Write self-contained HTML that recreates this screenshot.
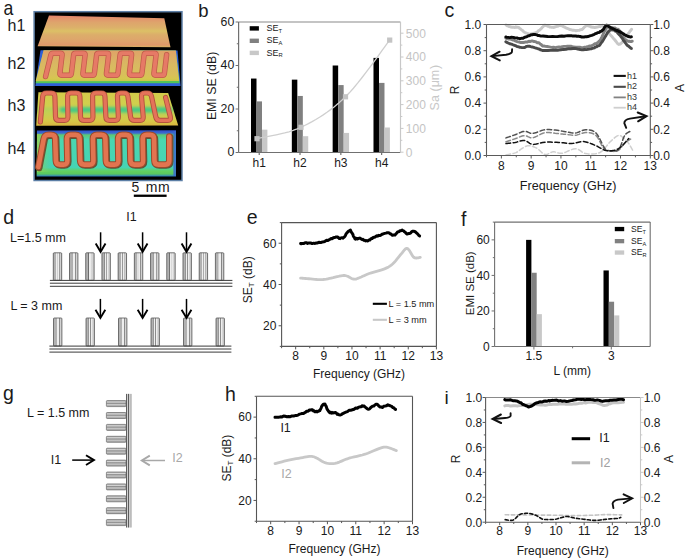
<!DOCTYPE html>
<html><head><meta charset="utf-8"><style>
html,body{margin:0;padding:0;background:#fff;}
svg{display:block;font-family:"Liberation Sans", sans-serif;}
</style></head><body>
<svg width="685" height="560" viewBox="0 0 685 560">
<rect width="685" height="560" fill="#fff"/>
<text x="3.60" y="14.70" font-size="20.5" text-anchor="start" fill="#1a1a1a" transform="translate(3.6 0) scale(0.86 1) translate(-3.6 0)">a</text>
<text x="7.60" y="31.30" font-size="16" text-anchor="start" fill="#1a1a1a" >h1</text>
<text x="7.60" y="68.80" font-size="16" text-anchor="start" fill="#1a1a1a" >h2</text>
<text x="7.60" y="111.40" font-size="16" text-anchor="start" fill="#1a1a1a" >h3</text>
<text x="7.60" y="154.30" font-size="16" text-anchor="start" fill="#1a1a1a" >h4</text>
<rect x="34.1" y="11.7" width="147.9" height="168.8" fill="#000" stroke="#5d7fa6" stroke-width="1.5"/>
<defs>
<linearGradient id="g1" x1="0" y1="0" x2="0" y2="1">
<stop offset="0" stop-color="#e4806a"/><stop offset="0.07" stop-color="#e2906c"/><stop offset="0.22" stop-color="#dea46c"/><stop offset="0.38" stop-color="#dcb06a"/><stop offset="0.49" stop-color="#dcc066"/><stop offset="0.6" stop-color="#dcae6a"/><stop offset="0.82" stop-color="#dea26c"/><stop offset="0.92" stop-color="#e0986a"/><stop offset="1" stop-color="#d8b062"/></linearGradient>
<linearGradient id="g2" x1="0" y1="0" x2="0" y2="1">
<stop offset="0" stop-color="#e0a268"/><stop offset="0.45" stop-color="#d9b862"/><stop offset="0.8" stop-color="#d8c05a"/><stop offset="0.9" stop-color="#d6c650"/><stop offset="1" stop-color="#c8c848"/></linearGradient>
<linearGradient id="g3" x1="0" y1="0" x2="0" y2="1">
<stop offset="0" stop-color="#d4ca4a"/><stop offset="0.4" stop-color="#cfd04e"/><stop offset="0.5" stop-color="#b8d058"/><stop offset="0.62" stop-color="#c4d052"/><stop offset="0.85" stop-color="#d6c848"/><stop offset="1" stop-color="#dab640"/></linearGradient>
<filter id="bl" x="-20%" y="-50%" width="140%" height="200%"><feGaussianBlur stdDeviation="1.6"/></filter>
<linearGradient id="g4" x1="0" y1="0" x2="0" y2="1">
<stop offset="0" stop-color="#3050c8"/><stop offset="0.06" stop-color="#3c68d0"/><stop offset="0.1" stop-color="#5cc874"/><stop offset="0.2" stop-color="#4ad6b0"/><stop offset="0.8" stop-color="#46d4b4"/><stop offset="0.88" stop-color="#62d060"/><stop offset="0.94" stop-color="#5ac860"/><stop offset="1" stop-color="#2a78c8"/></linearGradient>
<linearGradient id="g4l" x1="0" y1="0" x2="1" y2="0"><stop offset="0" stop-color="#a0d050" stop-opacity="0.85"/><stop offset="1" stop-color="#70d070" stop-opacity="0"/></linearGradient>
</defs>
<polygon points="49.0,15.4 164.3,18.2 170.5,47.3 37.6,46.2" fill="url(#g1)"/>
<polygon points="40.5,50.2 177.5,50.6 180.6,85.9 35.3,85.9" fill="#2f5fd8"/>
<polygon points="43.6,50.2 175.8,50.6 179.6,83.2 35.6,83.3" fill="#52c458"/>
<polygon points="43.6,50.2 175.8,50.6 179.2,81.0 35.6,81.2" fill="url(#g2)"/>
<path d="M45.56,76.60 L50.86,55.00 Q51.30,53.20 53.10,53.20 L60.50,53.20 Q62.30,53.20 62.09,55.00 L59.91,73.40 Q59.70,75.20 61.50,75.20 L69.40,75.20 Q71.20,75.20 71.41,73.40 L73.59,55.00 Q73.80,53.20 75.60,53.20 L83.50,53.20 Q85.30,53.20 85.09,55.00 L82.91,73.40 Q82.70,75.20 84.50,75.20 L92.40,75.20 Q94.20,75.20 94.41,73.40 L96.59,55.00 Q96.80,53.20 98.60,53.20 L107.00,53.20 Q108.80,53.20 108.59,55.00 L106.41,73.40 Q106.20,75.20 108.00,75.20 L115.90,75.20 Q117.70,75.20 117.91,73.40 L120.09,55.00 Q120.30,53.20 122.10,53.20 L130.00,53.20 Q131.80,53.20 131.59,55.00 L129.41,73.40 Q129.20,75.20 131.00,75.20 L139.90,75.20 Q141.70,75.20 141.91,73.40 L144.09,55.00 Q144.30,53.20 146.10,53.20 L154.50,53.20 Q156.30,53.20 156.09,55.00 L153.91,73.40 Q153.70,75.20 155.50,75.20 L162.40,75.20 Q164.20,75.20 164.41,73.40 L166.63,54.60" fill="none" stroke="#c05a4a" stroke-width="5.4" stroke-linejoin="round" stroke-linecap="round"/>
<path d="M45.56,76.60 L50.86,55.00 Q51.30,53.20 53.10,53.20 L60.50,53.20 Q62.30,53.20 62.09,55.00 L59.91,73.40 Q59.70,75.20 61.50,75.20 L69.40,75.20 Q71.20,75.20 71.41,73.40 L73.59,55.00 Q73.80,53.20 75.60,53.20 L83.50,53.20 Q85.30,53.20 85.09,55.00 L82.91,73.40 Q82.70,75.20 84.50,75.20 L92.40,75.20 Q94.20,75.20 94.41,73.40 L96.59,55.00 Q96.80,53.20 98.60,53.20 L107.00,53.20 Q108.80,53.20 108.59,55.00 L106.41,73.40 Q106.20,75.20 108.00,75.20 L115.90,75.20 Q117.70,75.20 117.91,73.40 L120.09,55.00 Q120.30,53.20 122.10,53.20 L130.00,53.20 Q131.80,53.20 131.59,55.00 L129.41,73.40 Q129.20,75.20 131.00,75.20 L139.90,75.20 Q141.70,75.20 141.91,73.40 L144.09,55.00 Q144.30,53.20 146.10,53.20 L154.50,53.20 Q156.30,53.20 156.09,55.00 L153.91,73.40 Q153.70,75.20 155.50,75.20 L162.40,75.20 Q164.20,75.20 164.41,73.40 L166.63,54.60" fill="none" stroke="#e67a66" stroke-width="3.9" stroke-linejoin="round" stroke-linecap="round"/>
<polygon points="38.4,92.2 168.2,93.1 178.2,125.4 36.2,125.8" fill="url(#g3)"/>
<rect x="60" y="107.2" width="112" height="5.4" rx="2.5" fill="#3cc888" filter="url(#bl)" opacity="0.95"/>
<path d="M40.35,122.00 L42.68,96.50 Q43.00,93.00 46.50,93.00 L51.30,93.00 Q54.80,93.00 54.90,96.50 L55.50,116.90 Q55.60,120.40 59.10,120.40 L64.50,120.40 Q68.00,120.40 67.94,116.90 L67.56,96.50 Q67.50,93.00 71.00,93.00 L76.30,93.00 Q79.80,93.00 79.90,96.50 L80.50,116.90 Q80.60,120.40 84.10,120.40 L89.50,120.40 Q93.00,120.40 92.94,116.90 L92.56,96.50 Q92.50,93.00 96.00,93.00 L101.30,93.00 Q104.80,93.00 104.95,96.50 L105.85,116.90 Q106.00,120.40 109.50,120.40 L115.00,120.40 Q118.50,120.40 118.35,116.90 L117.45,96.50 Q117.30,93.00 120.80,93.00 L124.00,93.00 Q127.50,93.00 127.95,96.50 L130.55,116.90 Q131.00,120.40 134.50,120.40 L140.00,120.40 Q143.50,120.40 143.21,116.90 L141.49,96.50 Q141.20,93.00 144.70,93.00 L147.30,93.00 Q150.80,93.00 151.53,96.50 L155.77,116.90 Q156.50,120.40 160.00,120.40 L167.70,120.40 Q171.20,120.40 170.34,116.90 L165.60,97.50" fill="none" stroke="#b4523e" stroke-width="5.2" stroke-linejoin="round" stroke-linecap="round"/>
<path d="M40.35,122.00 L42.68,96.50 Q43.00,93.00 46.50,93.00 L51.30,93.00 Q54.80,93.00 54.90,96.50 L55.50,116.90 Q55.60,120.40 59.10,120.40 L64.50,120.40 Q68.00,120.40 67.94,116.90 L67.56,96.50 Q67.50,93.00 71.00,93.00 L76.30,93.00 Q79.80,93.00 79.90,96.50 L80.50,116.90 Q80.60,120.40 84.10,120.40 L89.50,120.40 Q93.00,120.40 92.94,116.90 L92.56,96.50 Q92.50,93.00 96.00,93.00 L101.30,93.00 Q104.80,93.00 104.95,96.50 L105.85,116.90 Q106.00,120.40 109.50,120.40 L115.00,120.40 Q118.50,120.40 118.35,116.90 L117.45,96.50 Q117.30,93.00 120.80,93.00 L124.00,93.00 Q127.50,93.00 127.95,96.50 L130.55,116.90 Q131.00,120.40 134.50,120.40 L140.00,120.40 Q143.50,120.40 143.21,116.90 L141.49,96.50 Q141.20,93.00 144.70,93.00 L147.30,93.00 Q150.80,93.00 151.53,96.50 L155.77,116.90 Q156.50,120.40 160.00,120.40 L167.70,120.40 Q171.20,120.40 170.34,116.90 L165.60,97.50" fill="none" stroke="#e4735a" stroke-width="3.4" stroke-linejoin="round" stroke-linecap="round"/>
<polygon points="37.0,130.5 176.0,130.3 176.0,176.6 36.6,176.6" fill="url(#g4)"/>
<rect x="173.4" y="131" width="2.6" height="45" fill="#3a6ad0" opacity="0.85"/>
<rect x="37" y="134" width="14" height="38" fill="url(#g4l)"/>
<path d="M38.34,167.00 L43.73,138.80 Q44.50,134.80 48.50,134.80 L51.10,134.80 Q55.10,134.80 55.22,138.80 L55.88,160.60 Q56.00,164.60 60.00,164.60 L63.50,164.60 Q67.50,164.60 67.41,160.60 L66.89,138.80 Q66.80,134.80 70.80,134.80 L75.50,134.80 Q79.50,134.80 79.61,138.80 L80.19,160.60 Q80.30,164.60 84.30,164.60 L89.50,164.60 Q93.50,164.60 93.41,160.60 L92.89,138.80 Q92.80,134.80 96.80,134.80 L101.30,134.80 Q105.30,134.80 105.39,138.80 L105.91,160.60 Q106.00,164.60 110.00,164.60 L114.50,164.60 Q118.50,164.60 118.43,160.60 L118.07,138.80 Q118.00,134.80 122.00,134.80 L126.00,134.80 Q130.00,134.80 130.07,138.80 L130.43,160.60 Q130.50,164.60 134.50,164.60 L139.20,164.60 Q143.20,164.60 143.12,160.60 L142.68,138.80 Q142.60,134.80 146.60,134.80 L150.00,134.80 Q154.00,134.80 154.07,138.80 L154.43,160.60 Q154.50,164.60 158.50,164.60 L165.30,164.60 Q169.30,164.60 169.30,160.60 L169.30,136.50" fill="none" stroke="#5a3a20" stroke-width="6.6" stroke-linejoin="round" stroke-linecap="round" transform="translate(0.9 0.9)" opacity="0.8"/>
<path d="M38.34,167.00 L43.73,138.80 Q44.50,134.80 48.50,134.80 L51.10,134.80 Q55.10,134.80 55.22,138.80 L55.88,160.60 Q56.00,164.60 60.00,164.60 L63.50,164.60 Q67.50,164.60 67.41,160.60 L66.89,138.80 Q66.80,134.80 70.80,134.80 L75.50,134.80 Q79.50,134.80 79.61,138.80 L80.19,160.60 Q80.30,164.60 84.30,164.60 L89.50,164.60 Q93.50,164.60 93.41,160.60 L92.89,138.80 Q92.80,134.80 96.80,134.80 L101.30,134.80 Q105.30,134.80 105.39,138.80 L105.91,160.60 Q106.00,164.60 110.00,164.60 L114.50,164.60 Q118.50,164.60 118.43,160.60 L118.07,138.80 Q118.00,134.80 122.00,134.80 L126.00,134.80 Q130.00,134.80 130.07,138.80 L130.43,160.60 Q130.50,164.60 134.50,164.60 L139.20,164.60 Q143.20,164.60 143.12,160.60 L142.68,138.80 Q142.60,134.80 146.60,134.80 L150.00,134.80 Q154.00,134.80 154.07,138.80 L154.43,160.60 Q154.50,164.60 158.50,164.60 L165.30,164.60 Q169.30,164.60 169.30,160.60 L169.30,136.50" fill="none" stroke="#9a4a2c" stroke-width="6.6" stroke-linejoin="round" stroke-linecap="round"/>
<path d="M38.34,167.00 L43.73,138.80 Q44.50,134.80 48.50,134.80 L51.10,134.80 Q55.10,134.80 55.22,138.80 L55.88,160.60 Q56.00,164.60 60.00,164.60 L63.50,164.60 Q67.50,164.60 67.41,160.60 L66.89,138.80 Q66.80,134.80 70.80,134.80 L75.50,134.80 Q79.50,134.80 79.61,138.80 L80.19,160.60 Q80.30,164.60 84.30,164.60 L89.50,164.60 Q93.50,164.60 93.41,160.60 L92.89,138.80 Q92.80,134.80 96.80,134.80 L101.30,134.80 Q105.30,134.80 105.39,138.80 L105.91,160.60 Q106.00,164.60 110.00,164.60 L114.50,164.60 Q118.50,164.60 118.43,160.60 L118.07,138.80 Q118.00,134.80 122.00,134.80 L126.00,134.80 Q130.00,134.80 130.07,138.80 L130.43,160.60 Q130.50,164.60 134.50,164.60 L139.20,164.60 Q143.20,164.60 143.12,160.60 L142.68,138.80 Q142.60,134.80 146.60,134.80 L150.00,134.80 Q154.00,134.80 154.07,138.80 L154.43,160.60 Q154.50,164.60 158.50,164.60 L165.30,164.60 Q169.30,164.60 169.30,160.60 L169.30,136.50" fill="none" stroke="#e27450" stroke-width="4.6" stroke-linejoin="round" stroke-linecap="round"/>
<text x="131.40" y="192.40" font-size="14" text-anchor="start" fill="#1a1a1a" letter-spacing="0.5" word-spacing="1.8">5 mm</text>
<rect x="133.80" y="194.60" width="32.80" height="2.30" fill="#000" />
<text x="198.20" y="17.00" font-size="18.5" text-anchor="start" fill="#1a1a1a" >b</text>
<rect x="251.00" y="78.55" width="5.50" height="73.95" fill="#000" />
<rect x="256.50" y="101.39" width="5.50" height="51.11" fill="#808080" />
<rect x="262.00" y="129.66" width="5.40" height="22.84" fill="#c8c8c8" />
<line x1="259.20" y1="152.50" x2="259.20" y2="155.00" stroke="#555" stroke-width="1" />
<text x="259.20" y="166.70" font-size="12" text-anchor="middle" fill="#1a1a1a" >h1</text>
<rect x="291.83" y="79.64" width="5.50" height="72.86" fill="#000" />
<rect x="297.33" y="95.95" width="5.50" height="56.55" fill="#808080" />
<rect x="302.83" y="136.19" width="5.40" height="16.31" fill="#c8c8c8" />
<line x1="300.03" y1="152.50" x2="300.03" y2="155.00" stroke="#555" stroke-width="1" />
<text x="300.03" y="166.70" font-size="12" text-anchor="middle" fill="#1a1a1a" >h2</text>
<rect x="332.66" y="65.50" width="5.50" height="87.00" fill="#000" />
<rect x="338.16" y="85.08" width="5.50" height="67.42" fill="#808080" />
<rect x="343.66" y="132.93" width="5.40" height="19.57" fill="#c8c8c8" />
<line x1="340.86" y1="152.50" x2="340.86" y2="155.00" stroke="#555" stroke-width="1" />
<text x="340.86" y="166.70" font-size="12" text-anchor="middle" fill="#1a1a1a" >h3</text>
<rect x="373.49" y="57.89" width="5.50" height="94.61" fill="#000" />
<rect x="378.99" y="82.90" width="5.50" height="69.60" fill="#808080" />
<rect x="384.49" y="127.49" width="5.40" height="25.01" fill="#c8c8c8" />
<line x1="381.69" y1="152.50" x2="381.69" y2="155.00" stroke="#555" stroke-width="1" />
<text x="381.69" y="166.70" font-size="12" text-anchor="middle" fill="#1a1a1a" >h4</text>
<path d="M257.00,138.70 L259.12,138.21 L261.78,137.68 L264.89,137.10 L268.39,136.45 L272.19,135.73 L276.22,134.91 L280.40,133.98 L284.67,132.94 L288.93,131.76 L293.13,130.44 L297.18,128.96 L301.00,127.30 L304.69,125.51 L308.39,123.63 L312.10,121.63 L315.81,119.52 L319.52,117.27 L323.24,114.88 L326.95,112.33 L330.67,109.61 L334.38,106.71 L338.09,103.62 L341.80,100.32 L345.50,96.80 L349.33,92.81 L353.40,88.21 L357.61,83.14 L361.89,77.74 L366.18,72.16 L370.38,66.54 L374.43,61.03 L378.25,55.77 L381.76,50.90 L384.89,46.57 L387.57,42.92 L389.70,40.10" fill="none" stroke="#cfcfcf" stroke-width="1.3" stroke-linejoin="round" stroke-linecap="round" />
<rect x="254.40" y="136.10" width="5.20" height="5.20" fill="#c4c4c4" />
<rect x="298.40" y="124.70" width="5.20" height="5.20" fill="#c4c4c4" />
<rect x="342.90" y="94.20" width="5.20" height="5.20" fill="#c4c4c4" />
<rect x="387.10" y="37.50" width="5.20" height="5.20" fill="#c4c4c4" />
<line x1="238.60" y1="22.00" x2="400.50" y2="22.00" stroke="#8a8a8a" stroke-width="1.2" />
<line x1="238.60" y1="22.00" x2="238.60" y2="152.50" stroke="#707070" stroke-width="1.2" />
<line x1="238.60" y1="152.50" x2="400.50" y2="152.50" stroke="#707070" stroke-width="1.2" />
<line x1="400.50" y1="22.00" x2="400.50" y2="152.50" stroke="#c8c8c8" stroke-width="1.2" />
<line x1="235.60" y1="152.50" x2="238.60" y2="152.50" stroke="#707070" stroke-width="1" />
<line x1="236.80" y1="130.75" x2="238.60" y2="130.75" stroke="#707070" stroke-width="1" />
<line x1="235.60" y1="109.00" x2="238.60" y2="109.00" stroke="#707070" stroke-width="1" />
<line x1="236.80" y1="87.25" x2="238.60" y2="87.25" stroke="#707070" stroke-width="1" />
<line x1="235.60" y1="65.50" x2="238.60" y2="65.50" stroke="#707070" stroke-width="1" />
<line x1="236.80" y1="43.75" x2="238.60" y2="43.75" stroke="#707070" stroke-width="1" />
<line x1="235.60" y1="22.00" x2="238.60" y2="22.00" stroke="#707070" stroke-width="1" />
<text x="234.30" y="156.00" font-size="12.3" text-anchor="end" fill="#1a1a1a" >0</text>
<text x="234.30" y="112.50" font-size="12.3" text-anchor="end" fill="#1a1a1a" >20</text>
<text x="234.30" y="69.00" font-size="12.3" text-anchor="end" fill="#1a1a1a" >40</text>
<text x="234.30" y="25.50" font-size="12.3" text-anchor="end" fill="#1a1a1a" >60</text>
<line x1="400.50" y1="152.20" x2="403.50" y2="152.20" stroke="#c8c8c8" stroke-width="1" />
<line x1="400.50" y1="140.30" x2="402.30" y2="140.30" stroke="#c8c8c8" stroke-width="1" />
<line x1="400.50" y1="128.40" x2="403.50" y2="128.40" stroke="#c8c8c8" stroke-width="1" />
<line x1="400.50" y1="116.50" x2="402.30" y2="116.50" stroke="#c8c8c8" stroke-width="1" />
<line x1="400.50" y1="104.60" x2="403.50" y2="104.60" stroke="#c8c8c8" stroke-width="1" />
<line x1="400.50" y1="92.70" x2="402.30" y2="92.70" stroke="#c8c8c8" stroke-width="1" />
<line x1="400.50" y1="80.80" x2="403.50" y2="80.80" stroke="#c8c8c8" stroke-width="1" />
<line x1="400.50" y1="68.90" x2="402.30" y2="68.90" stroke="#c8c8c8" stroke-width="1" />
<line x1="400.50" y1="57.00" x2="403.50" y2="57.00" stroke="#c8c8c8" stroke-width="1" />
<line x1="400.50" y1="45.10" x2="402.30" y2="45.10" stroke="#c8c8c8" stroke-width="1" />
<line x1="400.50" y1="33.20" x2="403.50" y2="33.20" stroke="#c8c8c8" stroke-width="1" />
<text x="405.80" y="156.50" font-size="12" text-anchor="start" fill="#c4c4c4" >0</text>
<text x="405.80" y="132.70" font-size="12" text-anchor="start" fill="#c4c4c4" >100</text>
<text x="405.80" y="108.90" font-size="12" text-anchor="start" fill="#c4c4c4" >200</text>
<text x="405.80" y="85.10" font-size="12" text-anchor="start" fill="#c4c4c4" >300</text>
<text x="405.80" y="61.30" font-size="12" text-anchor="start" fill="#c4c4c4" >400</text>
<text x="405.80" y="37.50" font-size="12" text-anchor="start" fill="#c4c4c4" >500</text>
<text x="439.00" y="87.60" font-size="12.5" text-anchor="middle" fill="#c8c8c8" transform="rotate(-90 439.0 87.6)" >Sa<tspan dx="3.6">(</tspan>μm<tspan dx="0.8">)</tspan></text>
<text x="216.20" y="85.90" font-size="12.3" text-anchor="middle" fill="#1a1a1a" transform="rotate(-90 216.2 85.9)" >EMI SE (dB)</text>
<rect x="249.70" y="26.20" width="9.20" height="4.40" fill="#000" />
<text x="266.6" y="31.00" font-size="9" fill="#1a1a1a">SE<tspan font-size="5.8" dy="1.8">T</tspan></text>
<rect x="249.70" y="38.60" width="9.20" height="4.40" fill="#808080" />
<text x="266.6" y="43.40" font-size="9" fill="#1a1a1a">SE<tspan font-size="5.8" dy="1.8">A</tspan></text>
<rect x="249.70" y="50.70" width="9.20" height="4.40" fill="#c8c8c8" />
<text x="266.6" y="55.50" font-size="9" fill="#1a1a1a">SE<tspan font-size="5.8" dy="1.8">R</tspan></text>
<text x="444.60" y="17.20" font-size="19.5" text-anchor="start" fill="#1a1a1a" >c</text>
<path d="M506.00,24.98 L506.44,25.24 L507.04,25.72 L507.75,25.85 L508.52,26.23 L509.29,26.59 L510.00,26.64 L510.67,26.99 L511.35,27.19 L512.03,27.38 L512.70,27.12 L513.36,27.27 L514.00,27.20 L514.61,27.51 L515.20,27.33 L515.78,26.85 L516.35,27.20 L516.92,27.14 L517.50,27.08 L518.08,27.30 L518.65,27.43 L519.22,27.80 L519.80,28.54 L520.39,28.80 L521.00,29.35 L521.64,29.86 L522.30,30.29 L522.97,31.06 L523.65,31.58 L524.33,32.26 L525.00,32.51 L525.67,32.90 L526.33,33.11 L527.00,33.43 L527.67,33.52 L528.33,33.58 L529.00,34.05 L529.67,34.12 L530.33,34.07 L531.00,33.99 L531.67,33.73 L532.33,33.60 L533.00,33.49 L533.67,33.22 L534.33,33.36 L535.00,32.94 L535.67,32.88 L536.33,32.32 L537.00,32.23 L537.67,31.74 L538.34,30.81 L539.02,30.37 L539.69,30.15 L540.35,29.35 L541.00,29.04 L541.63,28.13 L542.25,27.26 L542.86,26.83 L543.47,26.26 L544.08,25.49 L544.70,25.09 L545.33,25.16 L545.95,25.63 L546.58,25.81 L547.21,25.83 L547.85,26.23 L548.50,26.40 L549.16,26.56 L549.82,27.11 L550.49,26.97 L551.16,27.30 L551.83,27.34 L552.50,27.25 L553.17,27.48 L553.84,27.09 L554.51,27.20 L555.18,26.77 L555.84,26.74 L556.50,26.46 L557.15,26.26 L557.79,26.34 L558.42,25.96 L559.05,25.45 L559.67,25.55 L560.30,25.16 L560.91,25.32 L561.49,25.73 L562.07,25.88 L562.67,25.92 L563.31,26.70 L564.00,26.66 L564.73,27.05 L565.50,27.74 L566.29,27.98 L567.14,28.42 L568.04,28.73 L569.00,29.10 L570.06,29.64 L571.22,29.76 L572.44,30.18 L573.67,30.26 L574.87,30.43 L576.00,30.73 L577.08,30.46 L578.13,30.41 L579.16,30.40 L580.15,29.82 L581.10,29.51 L582.00,29.50 L582.84,28.92 L583.63,27.91 L584.38,27.09 L585.09,26.60 L585.80,26.09 L586.50,25.35 L587.19,25.65 L587.84,25.77 L588.48,25.93 L589.13,26.19 L589.79,26.37 L590.50,26.57 L591.25,27.19 L592.04,26.98 L592.86,27.34 L593.68,27.22 L594.50,27.56 L595.30,27.45 L596.11,27.23 L596.93,27.05 L597.75,27.15 L598.55,26.64 L599.30,26.53 L600.00,26.53 L600.61,26.45 L601.14,26.01 L601.63,25.52 L602.11,25.61 L602.62,25.21 L603.20,25.36 L603.84,26.06 L604.51,27.00 L605.22,27.84 L605.95,29.03 L606.71,30.27 L607.50,31.44 L608.32,32.21 L609.19,33.33 L610.08,34.60 L610.98,35.67 L611.89,36.54 L612.80,37.60 L613.73,38.69 L614.69,39.75 L615.65,40.99 L616.59,42.17 L617.49,43.58 L618.30,44.10 L619.02,44.48 L619.66,43.98 L620.24,44.04 L620.81,43.55 L621.39,43.16 L622.00,42.41 L622.66,42.12 L623.35,40.88 L624.04,40.24 L624.73,39.41 L625.39,38.57 L626.00,37.62 L626.56,36.75 L627.09,35.92 L627.59,35.10 L628.07,33.97 L628.53,33.33 L629.00,32.70 L629.49,32.00 L629.99,31.11 L630.49,30.68 L630.94,30.17 L631.32,29.58 L631.60,29.26" fill="none" stroke="#c8c8c8" stroke-width="2.9" stroke-linejoin="round" stroke-linecap="round" />
<path d="M505.80,38.18 L506.77,38.56 L508.14,38.94 L509.74,39.06 L511.45,39.45 L513.12,40.12 L514.60,40.46 L515.87,41.18 L517.04,41.54 L518.16,41.90 L519.31,42.23 L520.53,42.56 L521.90,42.39 L523.47,42.49 L525.19,42.05 L527.00,42.13 L528.81,41.26 L530.53,41.46 L532.10,40.94 L533.52,41.46 L534.86,41.55 L536.11,41.99 L537.29,42.70 L538.38,42.67 L539.40,43.14 L540.22,44.09 L540.81,44.32 L541.32,44.55 L541.90,45.57 L542.68,45.99 L543.80,45.87 L545.34,46.39 L547.21,46.54 L549.29,46.93 L551.44,47.35 L553.55,47.23 L555.50,47.62 L557.29,47.16 L559.01,47.03 L560.69,47.14 L562.36,46.60 L564.02,46.38 L565.70,46.36 L567.42,46.28 L569.15,46.30 L570.89,46.21 L572.60,46.78 L574.28,47.07 L575.90,47.19 L577.43,47.13 L578.89,47.13 L580.30,47.31 L581.71,47.63 L583.17,47.64 L584.70,47.17 L586.38,46.92 L588.19,46.51 L590.03,46.02 L591.83,45.56 L593.48,44.72 L594.90,43.82 L596.06,43.74 L597.04,42.97 L597.87,42.49 L598.61,41.72 L599.30,41.16 L600.00,40.33 L600.68,39.59 L601.29,38.07 L601.85,37.12 L602.39,35.66 L602.94,34.75 L603.50,33.22 L604.07,32.24 L604.61,31.11 L605.16,30.14 L605.72,28.75 L606.33,28.11 L607.00,27.33 L607.73,27.01 L608.52,27.00 L609.34,27.34 L610.20,27.20 L611.09,27.69 L612.00,27.40 L612.97,28.03 L614.02,27.91 L615.09,28.06 L616.15,28.72 L617.13,29.19 L618.00,29.10 L618.73,29.80 L619.37,30.71 L619.94,31.14 L620.47,31.80 L620.98,32.43 L621.50,33.22 L622.01,34.42 L622.49,35.58 L622.94,36.56 L623.40,37.21 L623.88,37.78 L624.40,38.69 L624.95,39.57 L625.52,40.10 L626.11,40.41 L626.72,40.52 L627.35,40.98 L628.00,41.19 L628.73,41.43 L629.54,41.27 L630.38,41.67 L631.16,41.60 L631.82,41.11 L632.30,41.17" fill="none" stroke="#828282" stroke-width="2.9" stroke-linejoin="round" stroke-linecap="round" />
<path d="M505.80,41.76 L506.77,42.42 L508.14,43.00 L509.74,43.77 L511.45,44.08 L513.12,44.78 L514.60,45.29 L515.90,45.82 L517.14,46.61 L518.34,46.69 L519.52,47.30 L520.70,47.39 L521.90,47.58 L523.10,47.59 L524.28,47.57 L525.46,47.07 L526.66,46.34 L527.90,46.23 L529.20,46.09 L530.61,46.68 L532.13,46.96 L533.69,47.37 L535.23,47.84 L536.69,48.25 L538.00,48.77 L539.04,49.05 L539.83,49.13 L540.54,49.88 L541.33,50.03 L542.36,50.47 L543.80,50.54 L545.72,50.52 L548.01,50.44 L550.55,50.37 L551.88,50.22 L553.21,50.03 L554.54,50.36 L555.86,50.26 L558.40,50.19 L560.90,49.80 L563.48,49.43 L566.06,49.23 L568.56,48.58 L570.90,48.69 L573.00,48.47 L574.80,48.39 L576.37,48.63 L577.77,49.12 L579.09,49.27 L580.41,49.64 L581.80,49.86 L583.29,49.76 L584.83,49.55 L586.36,49.67 L587.84,49.37 L589.24,49.17 L590.50,48.92 L591.62,48.73 L592.63,48.19 L593.54,48.13 L594.40,47.89 L595.21,47.13 L596.00,46.93 L596.74,46.75 L597.41,45.99 L598.03,45.82 L598.65,45.91 L599.29,45.48 L600.00,44.68 L600.79,43.42 L601.65,42.34 L602.53,41.23 L603.41,39.81 L604.24,38.39 L605.00,36.82 L605.67,36.13 L606.28,34.80 L606.84,34.01 L607.39,32.76 L607.93,32.46 L608.50,31.56 L609.08,31.09 L609.65,30.35 L610.22,30.27 L610.80,30.02 L611.39,29.90 L612.00,29.72 L612.64,30.00 L613.30,29.93 L613.97,30.17 L614.65,30.44 L615.33,31.15 L616.00,31.27 L616.67,31.85 L617.33,32.35 L618.00,33.35 L618.67,34.00 L619.33,34.75 L620.00,35.22 L620.68,36.31 L621.37,37.18 L622.06,38.01 L622.74,38.92 L623.39,40.45 L624.00,40.77 L624.54,41.64 L625.02,42.33 L625.48,43.19 L625.93,43.51 L626.43,44.37 L627.00,44.92 L627.70,45.84 L628.53,46.01 L629.39,46.85 L630.21,47.54 L630.91,48.32 L631.40,48.41" fill="none" stroke="#4a4a4a" stroke-width="2.9" stroke-linejoin="round" stroke-linecap="round" />
<path d="M505.80,36.96 L506.79,37.36 L508.17,37.37 L509.80,37.60 L511.52,37.27 L513.17,37.35 L514.60,37.74 L515.81,37.86 L516.93,37.89 L517.97,38.37 L518.99,38.41 L519.98,38.77 L521.00,38.37 L522.02,38.26 L523.02,38.36 L524.01,37.65 L524.99,37.16 L525.99,37.06 L527.00,36.58 L528.02,35.93 L529.03,35.77 L530.04,35.44 L531.09,34.80 L532.17,34.83 L533.30,34.37 L534.43,34.53 L535.53,34.54 L536.67,34.85 L537.91,35.60 L539.34,35.53 L541.00,36.09 L542.98,35.94 L545.24,36.22 L547.67,36.55 L550.17,36.58 L552.65,36.33 L555.00,36.65 L557.27,36.63 L559.56,36.22 L561.81,35.98 L564.00,36.26 L566.08,35.89 L568.00,35.62 L569.75,35.76 L571.37,35.66 L572.88,36.07 L574.30,35.99 L575.66,35.85 L577.00,36.39 L578.27,36.11 L579.45,36.43 L580.57,36.50 L581.68,37.13 L582.81,36.87 L584.00,37.12 L585.26,36.73 L586.57,36.73 L587.90,36.55 L589.23,36.11 L590.54,35.67 L591.80,35.29 L593.05,34.82 L594.32,34.40 L595.57,33.56 L596.76,33.24 L597.85,32.59 L598.80,32.52 L599.59,32.22 L600.24,31.44 L600.80,31.25 L601.30,31.35 L601.79,30.96 L602.30,30.21 L602.84,30.04 L603.39,29.46 L603.91,28.35 L604.41,27.53 L604.88,26.97 L605.30,26.66 L605.64,25.88 L605.91,25.61 L606.15,25.34 L606.39,25.48 L606.66,25.34 L607.00,25.25 L607.41,25.48 L607.85,25.52 L608.33,26.03 L608.84,26.82 L609.40,26.98 L610.00,27.17 L610.66,27.93 L611.37,27.97 L612.12,28.30 L612.91,28.57 L613.70,29.02 L614.50,29.42 L615.31,29.77 L616.13,30.45 L616.98,30.38 L617.82,30.66 L618.67,31.20 L619.50,31.75 L620.34,31.80 L621.19,32.55 L622.04,32.81 L622.87,33.43 L623.66,33.93 L624.40,34.57 L625.08,34.85 L625.70,35.08 L626.29,35.64 L626.86,35.69 L627.43,35.99 L628.00,36.58 L628.62,36.52 L629.27,36.79 L629.92,36.61 L630.53,37.05 L631.03,36.92 L631.40,36.75" fill="none" stroke="#0a0a0a" stroke-width="2.9" stroke-linejoin="round" stroke-linecap="round" />
<path d="M506.00,154.90 L507.13,154.67 L508.74,154.37 L510.62,154.01 L512.59,153.59 L514.45,153.11 L516.00,152.60 L517.22,152.01 L518.27,151.32 L519.21,150.58 L520.10,149.84 L521.01,149.13 L522.00,148.50 L523.04,147.90 L524.09,147.27 L525.15,146.68 L526.24,146.19 L527.39,145.84 L528.60,145.70 L529.90,145.78 L531.28,146.03 L532.71,146.43 L534.16,146.96 L535.60,147.59 L537.00,148.30 L538.36,149.24 L539.69,150.46 L541.02,151.79 L542.34,153.04 L543.67,154.03 L545.00,154.60 L546.33,154.61 L547.66,154.18 L548.99,153.50 L550.34,152.75 L551.70,152.12 L553.10,151.80 L554.48,151.87 L555.83,152.21 L557.21,152.66 L558.66,153.09 L560.24,153.35 L562.00,153.30 L564.03,152.78 L566.31,151.87 L568.72,150.79 L571.14,149.76 L573.48,148.99 L575.60,148.70 L577.45,149.04 L579.10,149.85 L580.66,150.93 L582.23,152.06 L583.91,153.02 L585.80,153.60 L587.98,153.88 L590.38,154.04 L592.89,154.04 L595.40,153.81 L597.81,153.32 L600.00,152.50 L601.98,151.20 L603.83,149.42 L605.58,147.37 L607.24,145.25 L608.84,143.26 L610.40,141.60 L611.91,140.19 L613.37,138.84 L614.76,137.62 L616.08,136.60 L617.33,135.84 L618.50,135.40 L619.58,135.36 L620.55,135.67 L621.46,136.24 L622.31,136.97 L623.15,137.76 L624.00,138.50 L624.85,139.21 L625.68,139.99 L626.49,140.81 L627.29,141.69 L628.05,142.62 L628.80,143.60 L629.56,144.73 L630.34,146.02 L631.10,147.37 L631.79,148.64 L632.37,149.73 L632.80,150.50" fill="none" stroke="#cfcfcf" stroke-width="1.5" stroke-linejoin="round" stroke-linecap="round" stroke-dasharray="4.6 2.6" stroke-linecap="butt"/>
<path d="M506.00,141.80 L506.97,141.48 L508.31,141.03 L509.91,140.50 L511.63,139.93 L513.37,139.35 L515.00,138.80 L516.57,138.22 L518.18,137.55 L519.80,136.88 L521.41,136.27 L522.99,135.82 L524.50,135.60 L525.89,135.74 L527.18,136.21 L528.42,136.82 L529.71,137.41 L531.11,137.80 L532.70,137.80 L534.52,137.29 L536.51,136.39 L538.61,135.28 L540.77,134.16 L542.92,133.20 L545.00,132.60 L547.04,132.40 L549.10,132.44 L551.14,132.66 L553.16,132.97 L555.12,133.27 L557.00,133.50 L558.80,133.66 L560.53,133.84 L562.21,134.01 L563.84,134.19 L565.44,134.35 L567.00,134.50 L568.50,134.67 L569.91,134.88 L571.29,135.08 L572.67,135.22 L574.09,135.28 L575.60,135.20 L577.21,134.89 L578.88,134.37 L580.60,133.76 L582.34,133.18 L584.08,132.75 L585.80,132.60 L587.53,132.64 L589.28,132.77 L591.04,133.06 L592.76,133.56 L594.43,134.35 L596.00,135.50 L597.46,137.24 L598.83,139.57 L600.14,142.18 L601.41,144.79 L602.69,147.09 L604.00,148.80 L605.35,149.87 L606.72,150.53 L608.09,150.88 L609.44,151.04 L610.75,151.11 L612.00,151.20 L613.17,151.33 L614.29,151.41 L615.36,151.41 L616.41,151.27 L617.45,150.95 L618.50,150.40 L619.55,149.51 L620.59,148.30 L621.62,146.90 L622.65,145.46 L623.68,144.11 L624.70,143.00 L625.79,142.09 L626.97,141.27 L628.14,140.54 L629.22,139.91 L630.14,139.40 L630.80,139.00" fill="none" stroke="#8a8a8a" stroke-width="1.5" stroke-linejoin="round" stroke-linecap="round" stroke-dasharray="4.6 2.6" stroke-linecap="butt"/>
<path d="M506.00,137.90 L506.97,137.57 L508.31,137.11 L509.91,136.57 L511.63,135.98 L513.37,135.38 L515.00,134.80 L516.57,134.18 L518.18,133.46 L519.80,132.73 L521.41,132.07 L522.99,131.56 L524.50,131.30 L525.89,131.39 L527.18,131.80 L528.42,132.36 L529.71,132.92 L531.11,133.32 L532.70,133.40 L534.51,133.07 L536.50,132.44 L538.60,131.64 L540.76,130.83 L542.91,130.13 L545.00,129.70 L547.07,129.54 L549.16,129.54 L551.26,129.66 L553.31,129.86 L555.31,130.09 L557.20,130.30 L558.99,130.53 L560.69,130.81 L562.33,131.12 L563.91,131.44 L565.46,131.74 L567.00,132.00 L568.48,132.26 L569.90,132.54 L571.27,132.81 L572.66,133.01 L574.09,133.09 L575.60,133.00 L577.21,132.62 L578.88,131.97 L580.60,131.21 L582.34,130.47 L584.08,129.92 L585.80,129.70 L587.52,129.74 L589.27,129.90 L591.02,130.24 L592.75,130.83 L594.42,131.73 L596.00,133.00 L597.53,134.90 L599.03,137.43 L600.48,140.26 L601.84,143.10 L603.09,145.61 L604.20,147.50 L605.05,148.73 L605.64,149.53 L606.13,150.02 L606.63,150.30 L607.31,150.46 L608.30,150.60 L609.69,150.81 L611.40,151.03 L613.27,151.12 L615.17,150.99 L616.96,150.48 L618.50,149.50 L619.77,147.79 L620.87,145.40 L621.86,142.66 L622.79,139.86 L623.72,137.34 L624.70,135.40 L625.79,134.05 L626.97,133.05 L628.14,132.32 L629.22,131.78 L630.14,131.37 L630.80,131.00" fill="none" stroke="#505050" stroke-width="1.5" stroke-linejoin="round" stroke-linecap="round" stroke-dasharray="4.6 2.6" stroke-linecap="butt"/>
<path d="M506.00,143.60 L506.97,143.49 L508.31,143.35 L509.91,143.17 L511.63,142.97 L513.37,142.75 L515.00,142.50 L516.57,142.15 L518.18,141.68 L519.80,141.19 L521.41,140.76 L522.99,140.50 L524.50,140.50 L525.89,140.88 L527.18,141.59 L528.42,142.46 L529.71,143.33 L531.11,144.03 L532.70,144.40 L534.47,144.36 L536.35,144.02 L538.34,143.52 L540.45,142.97 L542.67,142.49 L545.00,142.20 L547.56,142.11 L550.36,142.12 L553.28,142.20 L556.17,142.33 L558.89,142.47 L561.30,142.60 L563.33,142.77 L565.07,143.00 L566.65,143.25 L568.17,143.47 L569.75,143.60 L571.50,143.60 L573.43,143.37 L575.45,142.93 L577.52,142.41 L579.63,141.93 L581.73,141.62 L583.80,141.60 L585.86,141.92 L587.94,142.49 L590.02,143.22 L592.08,144.05 L594.08,144.90 L596.00,145.70 L597.80,146.55 L599.50,147.53 L601.15,148.53 L602.80,149.44 L604.50,150.17 L606.30,150.60 L608.25,150.77 L610.30,150.78 L612.40,150.59 L614.50,150.20 L616.55,149.58 L618.50,148.70 L620.45,147.36 L622.46,145.54 L624.41,143.48 L626.20,141.45 L627.70,139.71 L628.80,138.50" fill="none" stroke="#111" stroke-width="1.5" stroke-linejoin="round" stroke-linecap="round" stroke-dasharray="4.6 2.6" stroke-linecap="butt"/>
<line x1="486.50" y1="24.50" x2="650.30" y2="24.50" stroke="#5a5a5a" stroke-width="1.1" />
<line x1="486.50" y1="24.50" x2="486.50" y2="155.50" stroke="#5a5a5a" stroke-width="1.1" />
<line x1="486.50" y1="155.50" x2="650.30" y2="155.50" stroke="#5a5a5a" stroke-width="1.1" />
<line x1="650.30" y1="24.50" x2="650.30" y2="155.50" stroke="#5a5a5a" stroke-width="1.1" />
<line x1="483.50" y1="155.50" x2="486.50" y2="155.50" stroke="#5a5a5a" stroke-width="1" />
<line x1="650.30" y1="155.50" x2="653.30" y2="155.50" stroke="#5a5a5a" stroke-width="1" />
<line x1="484.70" y1="142.40" x2="486.50" y2="142.40" stroke="#5a5a5a" stroke-width="1" />
<line x1="650.30" y1="142.40" x2="652.10" y2="142.40" stroke="#5a5a5a" stroke-width="1" />
<line x1="483.50" y1="129.30" x2="486.50" y2="129.30" stroke="#5a5a5a" stroke-width="1" />
<line x1="650.30" y1="129.30" x2="653.30" y2="129.30" stroke="#5a5a5a" stroke-width="1" />
<line x1="484.70" y1="116.20" x2="486.50" y2="116.20" stroke="#5a5a5a" stroke-width="1" />
<line x1="650.30" y1="116.20" x2="652.10" y2="116.20" stroke="#5a5a5a" stroke-width="1" />
<line x1="483.50" y1="103.10" x2="486.50" y2="103.10" stroke="#5a5a5a" stroke-width="1" />
<line x1="650.30" y1="103.10" x2="653.30" y2="103.10" stroke="#5a5a5a" stroke-width="1" />
<line x1="484.70" y1="90.00" x2="486.50" y2="90.00" stroke="#5a5a5a" stroke-width="1" />
<line x1="650.30" y1="90.00" x2="652.10" y2="90.00" stroke="#5a5a5a" stroke-width="1" />
<line x1="483.50" y1="76.90" x2="486.50" y2="76.90" stroke="#5a5a5a" stroke-width="1" />
<line x1="650.30" y1="76.90" x2="653.30" y2="76.90" stroke="#5a5a5a" stroke-width="1" />
<line x1="484.70" y1="63.80" x2="486.50" y2="63.80" stroke="#5a5a5a" stroke-width="1" />
<line x1="650.30" y1="63.80" x2="652.10" y2="63.80" stroke="#5a5a5a" stroke-width="1" />
<line x1="483.50" y1="50.70" x2="486.50" y2="50.70" stroke="#5a5a5a" stroke-width="1" />
<line x1="650.30" y1="50.70" x2="653.30" y2="50.70" stroke="#5a5a5a" stroke-width="1" />
<line x1="484.70" y1="37.60" x2="486.50" y2="37.60" stroke="#5a5a5a" stroke-width="1" />
<line x1="650.30" y1="37.60" x2="652.10" y2="37.60" stroke="#5a5a5a" stroke-width="1" />
<line x1="483.50" y1="24.50" x2="486.50" y2="24.50" stroke="#5a5a5a" stroke-width="1" />
<line x1="650.30" y1="24.50" x2="653.30" y2="24.50" stroke="#5a5a5a" stroke-width="1" />
<text x="481.30" y="159.80" font-size="12" text-anchor="end" fill="#1a1a1a" >0.0</text>
<text x="653.20" y="159.80" font-size="12" text-anchor="start" fill="#1a1a1a" >0.0</text>
<text x="481.30" y="133.60" font-size="12" text-anchor="end" fill="#1a1a1a" >0.2</text>
<text x="653.20" y="133.60" font-size="12" text-anchor="start" fill="#1a1a1a" >0.2</text>
<text x="481.30" y="107.40" font-size="12" text-anchor="end" fill="#1a1a1a" >0.4</text>
<text x="653.20" y="107.40" font-size="12" text-anchor="start" fill="#1a1a1a" >0.4</text>
<text x="481.30" y="81.20" font-size="12" text-anchor="end" fill="#1a1a1a" >0.6</text>
<text x="653.20" y="81.20" font-size="12" text-anchor="start" fill="#1a1a1a" >0.6</text>
<text x="481.30" y="55.00" font-size="12" text-anchor="end" fill="#1a1a1a" >0.8</text>
<text x="653.20" y="55.00" font-size="12" text-anchor="start" fill="#1a1a1a" >0.8</text>
<text x="481.30" y="28.80" font-size="12" text-anchor="end" fill="#1a1a1a" >1.0</text>
<text x="653.20" y="28.80" font-size="12" text-anchor="start" fill="#1a1a1a" >1.0</text>
<line x1="486.50" y1="155.50" x2="486.50" y2="157.30" stroke="#5a5a5a" stroke-width="1" />
<line x1="501.39" y1="155.50" x2="501.39" y2="158.50" stroke="#5a5a5a" stroke-width="1" />
<line x1="516.28" y1="155.50" x2="516.28" y2="157.30" stroke="#5a5a5a" stroke-width="1" />
<line x1="531.17" y1="155.50" x2="531.17" y2="158.50" stroke="#5a5a5a" stroke-width="1" />
<line x1="546.06" y1="155.50" x2="546.06" y2="157.30" stroke="#5a5a5a" stroke-width="1" />
<line x1="560.95" y1="155.50" x2="560.95" y2="158.50" stroke="#5a5a5a" stroke-width="1" />
<line x1="575.85" y1="155.50" x2="575.85" y2="157.30" stroke="#5a5a5a" stroke-width="1" />
<line x1="590.74" y1="155.50" x2="590.74" y2="158.50" stroke="#5a5a5a" stroke-width="1" />
<line x1="605.63" y1="155.50" x2="605.63" y2="157.30" stroke="#5a5a5a" stroke-width="1" />
<line x1="620.52" y1="155.50" x2="620.52" y2="158.50" stroke="#5a5a5a" stroke-width="1" />
<line x1="635.41" y1="155.50" x2="635.41" y2="157.30" stroke="#5a5a5a" stroke-width="1" />
<line x1="650.30" y1="155.50" x2="650.30" y2="158.50" stroke="#5a5a5a" stroke-width="1" />
<text x="501.39" y="170.40" font-size="12" text-anchor="middle" fill="#1a1a1a" >8</text>
<text x="531.17" y="170.40" font-size="12" text-anchor="middle" fill="#1a1a1a" >9</text>
<text x="560.95" y="170.40" font-size="12" text-anchor="middle" fill="#1a1a1a" >10</text>
<text x="590.74" y="170.40" font-size="12" text-anchor="middle" fill="#1a1a1a" >11</text>
<text x="620.52" y="170.40" font-size="12" text-anchor="middle" fill="#1a1a1a" >12</text>
<text x="650.30" y="170.40" font-size="12" text-anchor="middle" fill="#1a1a1a" >13</text>
<text x="568.10" y="189.90" font-size="12.6" text-anchor="middle" fill="#1a1a1a" >Frequency (GHz)</text>
<text x="458.80" y="90.00" font-size="12" text-anchor="middle" fill="#1a1a1a" transform="rotate(-90 458.8 90)" >R</text>
<text x="683.60" y="88.00" font-size="12" text-anchor="middle" fill="#1a1a1a" transform="rotate(-90 683.6 88)" >A</text>
<line x1="613.60" y1="75.90" x2="625.80" y2="75.90" stroke="#111" stroke-width="2.1" />
<text x="627.00" y="78.50" font-size="9" text-anchor="start" fill="#333" >h1</text>
<line x1="613.60" y1="86.80" x2="625.80" y2="86.80" stroke="#4a4a4a" stroke-width="2.1" />
<text x="627.00" y="89.40" font-size="9" text-anchor="start" fill="#333" >h2</text>
<line x1="613.60" y1="97.40" x2="625.80" y2="97.40" stroke="#828282" stroke-width="1.8" />
<text x="627.00" y="100.00" font-size="9" text-anchor="start" fill="#333" >h3</text>
<line x1="613.60" y1="107.70" x2="625.80" y2="107.70" stroke="#cfcfcf" stroke-width="1.8" />
<text x="627.00" y="110.30" font-size="9" text-anchor="start" fill="#333" >h4</text>
<path d="M512.1,49.3 L511.9,52 Q511.4,53.8 506,54.7 L492.3,56.1" fill="none" stroke="#111" stroke-width="1.9" stroke-linecap="round" stroke-linejoin="round"/>
<path d="M499.60,51.70 L491.40,56.20 L499.80,60.40" fill="none" stroke="#111" stroke-width="2.0" stroke-linecap="round" stroke-linejoin="miter"/>
<path d="M626.2,127.8 L624.3,123.2 Q624.3,119.6 630,118.6 L645.6,116.3" fill="none" stroke="#111" stroke-width="1.9" stroke-linecap="round" stroke-linejoin="round"/>
<path d="M637.70,112.50 L646.50,116.20 L638.10,121.30" fill="none" stroke="#111" stroke-width="2.0" stroke-linecap="round" stroke-linejoin="miter"/>
<defs><linearGradient id="finv" x1="0" y1="0" x2="1" y2="0"><stop offset="0" stop-color="#9c9c9c"/><stop offset="0.08" stop-color="#b4b4b4"/><stop offset="0.28" stop-color="#b0b0b0"/><stop offset="0.33" stop-color="#6a6a6a"/><stop offset="0.38" stop-color="#eeeeee"/><stop offset="0.49" stop-color="#eeeeee"/><stop offset="0.53" stop-color="#7a7a7a"/><stop offset="0.57" stop-color="#eeeeee"/><stop offset="0.68" stop-color="#eeeeee"/><stop offset="0.72" stop-color="#7a7a7a"/><stop offset="0.77" stop-color="#d6d6d6"/><stop offset="0.95" stop-color="#cccccc"/><stop offset="1" stop-color="#9c9c9c"/></linearGradient><linearGradient id="finh" x1="0" y1="0" x2="0" y2="1"><stop offset="0" stop-color="#a0a0a0"/><stop offset="0.25" stop-color="#d8d8d8"/><stop offset="0.45" stop-color="#8a8a8a"/><stop offset="0.65" stop-color="#c8c8c8"/><stop offset="1" stop-color="#9a9a9a"/></linearGradient></defs>
<text x="3.20" y="223.80" font-size="19.5" text-anchor="start" fill="#1a1a1a" >d</text>
<text x="10.00" y="242.00" font-size="12.5" text-anchor="start" fill="#1a1a1a" >L=1.5 mm</text>
<text x="126.20" y="221.30" font-size="12.5" text-anchor="start" fill="#1a1a1a" >I1</text>
<text x="10.40" y="310.10" font-size="12.5" text-anchor="start" fill="#1a1a1a" >L = 3 mm</text>
<rect x="53.30" y="252.80" width="8.40" height="27.50" rx="0.8" fill="url(#finv)" stroke="#555" stroke-width="0.8"/>
<rect x="69.51" y="252.80" width="8.40" height="27.50" rx="0.8" fill="url(#finv)" stroke="#555" stroke-width="0.8"/>
<rect x="85.72" y="252.80" width="8.40" height="27.50" rx="0.8" fill="url(#finv)" stroke="#555" stroke-width="0.8"/>
<rect x="101.93" y="252.80" width="8.40" height="27.50" rx="0.8" fill="url(#finv)" stroke="#555" stroke-width="0.8"/>
<rect x="118.14" y="252.80" width="8.40" height="27.50" rx="0.8" fill="url(#finv)" stroke="#555" stroke-width="0.8"/>
<rect x="134.35" y="252.80" width="8.40" height="27.50" rx="0.8" fill="url(#finv)" stroke="#555" stroke-width="0.8"/>
<rect x="150.56" y="252.80" width="8.40" height="27.50" rx="0.8" fill="url(#finv)" stroke="#555" stroke-width="0.8"/>
<rect x="166.77" y="252.80" width="8.40" height="27.50" rx="0.8" fill="url(#finv)" stroke="#555" stroke-width="0.8"/>
<rect x="182.98" y="252.80" width="8.40" height="27.50" rx="0.8" fill="url(#finv)" stroke="#555" stroke-width="0.8"/>
<rect x="199.19" y="252.80" width="8.40" height="27.50" rx="0.8" fill="url(#finv)" stroke="#555" stroke-width="0.8"/>
<rect x="215.40" y="252.80" width="8.40" height="27.50" rx="0.8" fill="url(#finv)" stroke="#555" stroke-width="0.8"/>
<line x1="49.90" y1="280.40" x2="232.40" y2="280.40" stroke="#3a3a3a" stroke-width="1.0" />
<line x1="49.90" y1="283.20" x2="232.40" y2="283.20" stroke="#3a3a3a" stroke-width="1.0" />
<line x1="49.90" y1="286.30" x2="232.40" y2="286.30" stroke="#3a3a3a" stroke-width="1.0" />
<line x1="100.60" y1="232.30" x2="100.60" y2="251.00" stroke="#000" stroke-width="1.5" />
<path d="M95.70,243.60 L100.60,251.80 L105.50,243.60" fill="none" stroke="#000" stroke-width="1.9" stroke-linejoin="miter"/>
<line x1="142.60" y1="232.30" x2="142.60" y2="251.00" stroke="#000" stroke-width="1.5" />
<path d="M137.70,243.60 L142.60,251.80 L147.50,243.60" fill="none" stroke="#000" stroke-width="1.9" stroke-linejoin="miter"/>
<line x1="186.50" y1="232.30" x2="186.50" y2="251.00" stroke="#000" stroke-width="1.5" />
<path d="M181.60,243.60 L186.50,251.80 L191.40,243.60" fill="none" stroke="#000" stroke-width="1.9" stroke-linejoin="miter"/>
<rect x="53.50" y="318.00" width="8.40" height="28.00" rx="0.8" fill="url(#finv)" stroke="#555" stroke-width="0.8"/>
<rect x="86.00" y="318.00" width="8.40" height="28.00" rx="0.8" fill="url(#finv)" stroke="#555" stroke-width="0.8"/>
<rect x="118.50" y="318.00" width="8.40" height="28.00" rx="0.8" fill="url(#finv)" stroke="#555" stroke-width="0.8"/>
<rect x="151.00" y="318.00" width="8.40" height="28.00" rx="0.8" fill="url(#finv)" stroke="#555" stroke-width="0.8"/>
<rect x="183.50" y="318.00" width="8.40" height="28.00" rx="0.8" fill="url(#finv)" stroke="#555" stroke-width="0.8"/>
<rect x="216.00" y="318.00" width="8.40" height="28.00" rx="0.8" fill="url(#finv)" stroke="#555" stroke-width="0.8"/>
<line x1="49.40" y1="346.10" x2="231.40" y2="346.10" stroke="#3a3a3a" stroke-width="1.0" />
<line x1="49.40" y1="349.00" x2="231.40" y2="349.00" stroke="#3a3a3a" stroke-width="1.0" />
<line x1="49.40" y1="352.10" x2="231.40" y2="352.10" stroke="#3a3a3a" stroke-width="1.0" />
<line x1="100.40" y1="298.90" x2="100.40" y2="317.20" stroke="#000" stroke-width="1.5" />
<path d="M95.50,309.80 L100.40,318.00 L105.30,309.80" fill="none" stroke="#000" stroke-width="1.9" stroke-linejoin="miter"/>
<line x1="142.60" y1="298.90" x2="142.60" y2="317.20" stroke="#000" stroke-width="1.5" />
<path d="M137.70,309.80 L142.60,318.00 L147.50,309.80" fill="none" stroke="#000" stroke-width="1.9" stroke-linejoin="miter"/>
<line x1="186.50" y1="298.90" x2="186.50" y2="317.20" stroke="#000" stroke-width="1.5" />
<path d="M181.60,309.80 L186.50,318.00 L191.40,309.80" fill="none" stroke="#000" stroke-width="1.9" stroke-linejoin="miter"/>
<text x="246.80" y="224.00" font-size="19.5" text-anchor="start" fill="#1a1a1a" >e</text>
<line x1="281.60" y1="222.60" x2="436.40" y2="222.60" stroke="#555" stroke-width="1.1" />
<line x1="281.60" y1="222.60" x2="281.60" y2="346.40" stroke="#555" stroke-width="1.1" />
<line x1="281.60" y1="346.40" x2="436.40" y2="346.40" stroke="#555" stroke-width="1.1" />
<line x1="436.40" y1="222.60" x2="436.40" y2="346.40" stroke="#555" stroke-width="1.1" />
<line x1="279.80" y1="346.40" x2="281.60" y2="346.40" stroke="#555" stroke-width="1" />
<line x1="278.60" y1="325.77" x2="281.60" y2="325.77" stroke="#555" stroke-width="1" />
<line x1="279.80" y1="305.13" x2="281.60" y2="305.13" stroke="#555" stroke-width="1" />
<line x1="278.60" y1="284.50" x2="281.60" y2="284.50" stroke="#555" stroke-width="1" />
<line x1="279.80" y1="263.87" x2="281.60" y2="263.87" stroke="#555" stroke-width="1" />
<line x1="278.60" y1="243.23" x2="281.60" y2="243.23" stroke="#555" stroke-width="1" />
<line x1="279.80" y1="222.60" x2="281.60" y2="222.60" stroke="#555" stroke-width="1" />
<line x1="281.60" y1="346.40" x2="281.60" y2="348.20" stroke="#555" stroke-width="1" />
<line x1="295.67" y1="346.40" x2="295.67" y2="349.40" stroke="#555" stroke-width="1" />
<line x1="309.75" y1="346.40" x2="309.75" y2="348.20" stroke="#555" stroke-width="1" />
<line x1="323.82" y1="346.40" x2="323.82" y2="349.40" stroke="#555" stroke-width="1" />
<line x1="337.89" y1="346.40" x2="337.89" y2="348.20" stroke="#555" stroke-width="1" />
<line x1="351.96" y1="346.40" x2="351.96" y2="349.40" stroke="#555" stroke-width="1" />
<line x1="366.04" y1="346.40" x2="366.04" y2="348.20" stroke="#555" stroke-width="1" />
<line x1="380.11" y1="346.40" x2="380.11" y2="349.40" stroke="#555" stroke-width="1" />
<line x1="394.18" y1="346.40" x2="394.18" y2="348.20" stroke="#555" stroke-width="1" />
<line x1="408.25" y1="346.40" x2="408.25" y2="349.40" stroke="#555" stroke-width="1" />
<line x1="422.33" y1="346.40" x2="422.33" y2="348.20" stroke="#555" stroke-width="1" />
<line x1="436.40" y1="346.40" x2="436.40" y2="349.40" stroke="#555" stroke-width="1" />
<text x="295.67" y="359.60" font-size="12" text-anchor="middle" fill="#1a1a1a" >8</text>
<text x="323.82" y="359.60" font-size="12" text-anchor="middle" fill="#1a1a1a" >9</text>
<text x="351.96" y="359.60" font-size="12" text-anchor="middle" fill="#1a1a1a" >10</text>
<text x="380.11" y="359.60" font-size="12" text-anchor="middle" fill="#1a1a1a" >11</text>
<text x="408.25" y="359.60" font-size="12" text-anchor="middle" fill="#1a1a1a" >12</text>
<text x="436.40" y="359.60" font-size="12" text-anchor="middle" fill="#1a1a1a" >13</text>
<text x="276.40" y="330.07" font-size="12" text-anchor="end" fill="#1a1a1a" >20</text>
<text x="276.40" y="288.80" font-size="12" text-anchor="end" fill="#1a1a1a" >40</text>
<text x="276.40" y="247.53" font-size="12" text-anchor="end" fill="#1a1a1a" >60</text>
<path d="M300.60,278.10 L301.44,278.17 L302.55,278.26 L303.89,278.37 L305.41,278.49 L307.05,278.62 L308.75,278.75 L310.61,278.91 L312.69,279.11 L314.88,279.31 L317.11,279.48 L319.26,279.59 L321.25,279.60 L323.05,279.50 L324.72,279.31 L326.33,279.06 L327.92,278.76 L329.54,278.44 L331.25,278.10 L333.12,277.70 L335.14,277.22 L337.19,276.72 L339.17,276.24 L340.97,275.85 L342.50,275.60 L343.68,275.50 L344.58,275.50 L345.31,275.58 L345.97,275.75 L346.67,275.97 L347.50,276.25 L348.47,276.66 L349.49,277.24 L350.55,277.87 L351.62,278.48 L352.69,278.95 L353.75,279.20 L354.76,279.21 L355.72,279.06 L356.69,278.78 L357.70,278.41 L358.79,277.97 L360.00,277.50 L361.30,276.97 L362.65,276.35 L364.08,275.67 L365.62,274.95 L367.32,274.22 L369.20,273.50 L371.39,272.80 L373.88,272.09 L376.52,271.37 L379.16,270.63 L381.64,269.88 L383.80,269.10 L385.60,268.35 L387.17,267.64 L388.57,266.91 L389.89,266.10 L391.21,265.15 L392.60,264.00 L394.09,262.54 L395.61,260.80 L397.13,258.92 L398.61,257.03 L400.01,255.28 L401.30,253.80 L402.45,252.47 L403.48,251.14 L404.43,249.96 L405.34,249.02 L406.25,248.46 L407.20,248.40 L408.21,249.05 L409.25,250.34 L410.29,252.02 L411.29,253.79 L412.20,255.38 L413.00,256.50 L413.63,257.16 L414.13,257.57 L414.54,257.79 L414.93,257.90 L415.36,257.95 L415.90,258.00 L416.60,258.01 L417.42,257.93 L418.28,257.79 L419.10,257.63 L419.80,257.49 L420.30,257.40" fill="none" stroke="#c8c8c8" stroke-width="2.8" stroke-linejoin="round" stroke-linecap="round" />
<path d="M300.60,243.51 L301.19,243.71 L301.97,243.44 L302.91,243.52 L303.97,243.41 L305.11,242.79 L306.30,242.66 L307.59,243.38 L309.02,242.88 L310.54,242.90 L312.08,243.61 L313.58,243.14 L315.00,243.40 L316.32,242.96 L317.59,242.96 L318.82,242.34 L320.04,242.56 L321.26,242.52 L322.50,241.92 L323.76,241.78 L325.04,241.32 L326.32,240.35 L327.59,240.53 L328.82,239.93 L330.00,239.22 L331.15,238.49 L332.29,238.68 L333.39,237.77 L334.44,237.49 L335.41,237.24 L336.30,236.89 L337.06,237.13 L337.70,236.93 L338.27,237.69 L338.81,237.78 L339.37,238.55 L340.00,238.64 L340.71,237.91 L341.49,237.83 L342.27,237.71 L343.05,238.10 L343.77,237.27 L344.40,237.01 L344.92,236.16 L345.35,235.65 L345.73,234.77 L346.09,233.94 L346.47,233.41 L346.90,232.78 L347.39,232.48 L347.91,231.68 L348.45,231.35 L348.99,230.84 L349.51,230.69 L350.00,230.35 L350.45,230.12 L350.88,231.22 L351.29,231.94 L351.69,232.62 L352.09,233.08 L352.50,233.94 L352.88,234.27 L353.23,235.72 L353.57,236.41 L353.95,237.03 L354.42,237.58 L355.00,238.82 L355.74,239.19 L356.60,238.40 L357.54,238.92 L358.51,238.42 L359.48,238.11 L360.40,238.31 L361.27,239.04 L362.12,239.58 L362.96,239.34 L363.80,240.34 L364.65,240.21 L365.50,241.00 L366.37,240.61 L367.26,240.92 L368.15,240.71 L369.03,239.93 L369.88,240.00 L370.70,239.03 L371.45,238.49 L372.14,238.60 L372.81,237.72 L373.48,237.48 L374.20,237.29 L375.00,237.10 L375.87,236.32 L376.80,235.85 L377.76,236.23 L378.77,235.37 L379.82,235.58 L380.90,235.16 L382.06,234.27 L383.31,233.85 L384.60,233.41 L385.88,233.10 L387.09,232.77 L388.20,232.65 L389.18,232.95 L390.06,233.76 L390.89,234.03 L391.68,234.61 L392.48,235.34 L393.30,235.06 L394.16,234.88 L395.03,234.97 L395.89,233.88 L396.75,233.15 L397.59,231.98 L398.40,231.82 L399.17,231.57 L399.89,230.67 L400.60,230.87 L401.31,230.64 L402.03,230.02 L402.80,230.61 L403.60,230.86 L404.42,231.73 L405.26,232.26 L406.12,233.38 L407.00,234.03 L407.90,233.67 L408.82,233.51 L409.78,233.48 L410.75,232.99 L411.73,231.61 L412.72,231.27 L413.70,231.28 L414.75,231.46 L415.88,232.31 L417.01,233.30 L418.07,234.42 L418.96,235.56 L419.60,235.92" fill="none" stroke="#000" stroke-width="3.0" stroke-linejoin="round" stroke-linecap="round" />
<text x="252.30" y="279.70" font-size="12" text-anchor="middle" fill="#1a1a1a" transform="rotate(-90 252.3 279.7)" >SE<tspan font-size="8" dy="2.2">T</tspan><tspan dy="-2.2"> (dB)</tspan></text>
<text x="359.00" y="378.30" font-size="12" text-anchor="middle" fill="#1a1a1a" >Frequency (GHz)</text>
<line x1="372.80" y1="303.80" x2="386.90" y2="303.80" stroke="#000" stroke-width="2.1" />
<text x="388.40" y="306.90" font-size="9.2" text-anchor="start" fill="#222" >L = 1.5 mm</text>
<line x1="372.80" y1="319.80" x2="386.90" y2="319.80" stroke="#c8c8c8" stroke-width="2.1" />
<text x="388.40" y="322.90" font-size="9.2" text-anchor="start" fill="#222" >L = 3 mm</text>
<text x="461.00" y="226.30" font-size="19.5" text-anchor="start" fill="#1a1a1a" >f</text>
<rect x="526.10" y="239.87" width="5.30" height="106.63" fill="#000" />
<rect x="531.40" y="272.75" width="5.30" height="73.75" fill="#808080" />
<rect x="536.70" y="314.16" width="5.20" height="32.34" fill="#c8c8c8" />
<rect x="603.50" y="270.44" width="5.30" height="76.06" fill="#000" />
<rect x="608.80" y="301.72" width="5.30" height="44.78" fill="#808080" />
<rect x="614.10" y="315.40" width="5.20" height="31.10" fill="#c8c8c8" />
<line x1="494.60" y1="222.10" x2="650.20" y2="222.10" stroke="#707070" stroke-width="1.1" />
<line x1="494.60" y1="222.10" x2="494.60" y2="346.50" stroke="#707070" stroke-width="1.1" />
<line x1="494.60" y1="346.50" x2="650.20" y2="346.50" stroke="#707070" stroke-width="1.1" />
<line x1="650.20" y1="222.10" x2="650.20" y2="346.50" stroke="#707070" stroke-width="1.1" />
<line x1="491.60" y1="346.50" x2="494.60" y2="346.50" stroke="#707070" stroke-width="1" />
<line x1="492.80" y1="328.73" x2="494.60" y2="328.73" stroke="#707070" stroke-width="1" />
<line x1="491.60" y1="310.96" x2="494.60" y2="310.96" stroke="#707070" stroke-width="1" />
<line x1="492.80" y1="293.19" x2="494.60" y2="293.19" stroke="#707070" stroke-width="1" />
<line x1="491.60" y1="275.41" x2="494.60" y2="275.41" stroke="#707070" stroke-width="1" />
<line x1="492.80" y1="257.64" x2="494.60" y2="257.64" stroke="#707070" stroke-width="1" />
<line x1="491.60" y1="239.87" x2="494.60" y2="239.87" stroke="#707070" stroke-width="1" />
<line x1="492.80" y1="222.10" x2="494.60" y2="222.10" stroke="#707070" stroke-width="1" />
<text x="489.80" y="350.80" font-size="12" text-anchor="end" fill="#1a1a1a" >0</text>
<text x="489.80" y="315.26" font-size="12" text-anchor="end" fill="#1a1a1a" >20</text>
<text x="489.80" y="279.71" font-size="12" text-anchor="end" fill="#1a1a1a" >40</text>
<text x="489.80" y="244.17" font-size="12" text-anchor="end" fill="#1a1a1a" >60</text>
<line x1="533.90" y1="346.50" x2="533.90" y2="349.50" stroke="#707070" stroke-width="1" />
<line x1="611.30" y1="346.50" x2="611.30" y2="349.50" stroke="#707070" stroke-width="1" />
<line x1="572.60" y1="346.50" x2="572.60" y2="348.30" stroke="#707070" stroke-width="1" />
<text x="533.90" y="360.30" font-size="12" text-anchor="middle" fill="#1a1a1a" >1.5</text>
<text x="611.30" y="360.30" font-size="12" text-anchor="middle" fill="#1a1a1a" >3</text>
<text x="572.30" y="375.30" font-size="12" text-anchor="middle" fill="#1a1a1a" >L (mm)</text>
<text x="474.00" y="283.30" font-size="11.5" text-anchor="middle" fill="#1a1a1a" transform="rotate(-90 474.0 283.3)" >EMI SE (dB)</text>
<rect x="614.80" y="226.90" width="9.40" height="4.30" fill="#000" />
<text x="631.0" y="231.80" font-size="8.6" fill="#1a1a1a">SE<tspan font-size="5.6" dy="1.8">T</tspan></text>
<rect x="614.80" y="239.00" width="9.40" height="4.30" fill="#808080" />
<text x="631.0" y="243.90" font-size="8.6" fill="#1a1a1a">SE<tspan font-size="5.6" dy="1.8">A</tspan></text>
<rect x="614.80" y="250.40" width="9.40" height="4.30" fill="#c8c8c8" />
<text x="631.0" y="255.30" font-size="8.6" fill="#1a1a1a">SE<tspan font-size="5.6" dy="1.8">R</tspan></text>
<text x="3.00" y="399.70" font-size="19.5" text-anchor="start" fill="#1a1a1a" >g</text>
<text x="27.00" y="416.80" font-size="12.5" text-anchor="start" fill="#1a1a1a" >L = 1.5 mm</text>
<rect x="106.40" y="400.60" width="19.60" height="6.00" rx="0.8" fill="url(#finh)" stroke="#6a6a6a" stroke-width="0.7"/>
<rect x="106.40" y="412.50" width="19.60" height="6.00" rx="0.8" fill="url(#finh)" stroke="#6a6a6a" stroke-width="0.7"/>
<rect x="106.40" y="424.40" width="19.60" height="6.00" rx="0.8" fill="url(#finh)" stroke="#6a6a6a" stroke-width="0.7"/>
<rect x="106.40" y="436.30" width="19.60" height="6.00" rx="0.8" fill="url(#finh)" stroke="#6a6a6a" stroke-width="0.7"/>
<rect x="106.40" y="448.20" width="19.60" height="6.00" rx="0.8" fill="url(#finh)" stroke="#6a6a6a" stroke-width="0.7"/>
<rect x="106.40" y="460.10" width="19.60" height="6.00" rx="0.8" fill="url(#finh)" stroke="#6a6a6a" stroke-width="0.7"/>
<rect x="106.40" y="472.00" width="19.60" height="6.00" rx="0.8" fill="url(#finh)" stroke="#6a6a6a" stroke-width="0.7"/>
<rect x="106.40" y="483.90" width="19.60" height="6.00" rx="0.8" fill="url(#finh)" stroke="#6a6a6a" stroke-width="0.7"/>
<rect x="106.40" y="495.80" width="19.60" height="6.00" rx="0.8" fill="url(#finh)" stroke="#6a6a6a" stroke-width="0.7"/>
<rect x="106.40" y="507.70" width="19.60" height="6.00" rx="0.8" fill="url(#finh)" stroke="#6a6a6a" stroke-width="0.7"/>
<rect x="106.40" y="519.60" width="19.60" height="6.00" rx="0.8" fill="url(#finh)" stroke="#6a6a6a" stroke-width="0.7"/>
<rect x="126.4" y="393.9" width="4.6" height="133.6" fill="#d0d0d0"/>
<line x1="126.50" y1="393.90" x2="126.50" y2="527.50" stroke="#505050" stroke-width="0.9" />
<line x1="128.50" y1="393.90" x2="128.50" y2="527.50" stroke="#505050" stroke-width="0.9" />
<line x1="131.10" y1="393.90" x2="131.10" y2="527.50" stroke="#9a9a9a" stroke-width="0.9" />
<text x="50.80" y="463.80" font-size="12.5" text-anchor="start" fill="#1a1a1a" >I1</text>
<line x1="72.20" y1="460.10" x2="93.20" y2="460.10" stroke="#000" stroke-width="1.5" />
<path d="M86,455.2 L94,460.1 L86,465" fill="none" stroke="#000" stroke-width="1.9"/>
<text x="172.20" y="462.30" font-size="12.5" text-anchor="start" fill="#a8a8a8" >I2</text>
<line x1="142.60" y1="460.50" x2="165.00" y2="460.50" stroke="#a8a8a8" stroke-width="1.5" />
<path d="M149.8,455.6 L141.8,460.5 L149.8,465.4" fill="none" stroke="#a8a8a8" stroke-width="1.9"/>
<text x="225.00" y="400.80" font-size="19.5" text-anchor="start" fill="#1a1a1a" >h</text>
<line x1="256.50" y1="396.30" x2="412.50" y2="396.30" stroke="#555" stroke-width="1.1" />
<line x1="256.50" y1="396.30" x2="256.50" y2="521.25" stroke="#555" stroke-width="1.1" />
<line x1="256.50" y1="521.25" x2="412.50" y2="521.25" stroke="#555" stroke-width="1.1" />
<line x1="412.50" y1="396.30" x2="412.50" y2="521.25" stroke="#555" stroke-width="1.1" />
<line x1="254.70" y1="521.25" x2="256.50" y2="521.25" stroke="#555" stroke-width="1" />
<line x1="253.50" y1="500.43" x2="256.50" y2="500.43" stroke="#555" stroke-width="1" />
<line x1="254.70" y1="479.60" x2="256.50" y2="479.60" stroke="#555" stroke-width="1" />
<line x1="253.50" y1="458.77" x2="256.50" y2="458.77" stroke="#555" stroke-width="1" />
<line x1="254.70" y1="437.95" x2="256.50" y2="437.95" stroke="#555" stroke-width="1" />
<line x1="253.50" y1="417.12" x2="256.50" y2="417.12" stroke="#555" stroke-width="1" />
<line x1="254.70" y1="396.30" x2="256.50" y2="396.30" stroke="#555" stroke-width="1" />
<line x1="256.50" y1="521.25" x2="256.50" y2="523.05" stroke="#555" stroke-width="1" />
<line x1="270.68" y1="521.25" x2="270.68" y2="524.25" stroke="#555" stroke-width="1" />
<line x1="284.86" y1="521.25" x2="284.86" y2="523.05" stroke="#555" stroke-width="1" />
<line x1="299.05" y1="521.25" x2="299.05" y2="524.25" stroke="#555" stroke-width="1" />
<line x1="313.23" y1="521.25" x2="313.23" y2="523.05" stroke="#555" stroke-width="1" />
<line x1="327.41" y1="521.25" x2="327.41" y2="524.25" stroke="#555" stroke-width="1" />
<line x1="341.59" y1="521.25" x2="341.59" y2="523.05" stroke="#555" stroke-width="1" />
<line x1="355.77" y1="521.25" x2="355.77" y2="524.25" stroke="#555" stroke-width="1" />
<line x1="369.95" y1="521.25" x2="369.95" y2="523.05" stroke="#555" stroke-width="1" />
<line x1="384.14" y1="521.25" x2="384.14" y2="524.25" stroke="#555" stroke-width="1" />
<line x1="398.32" y1="521.25" x2="398.32" y2="523.05" stroke="#555" stroke-width="1" />
<line x1="412.50" y1="521.25" x2="412.50" y2="524.25" stroke="#555" stroke-width="1" />
<text x="270.68" y="534.70" font-size="12" text-anchor="middle" fill="#1a1a1a" >8</text>
<text x="299.05" y="534.70" font-size="12" text-anchor="middle" fill="#1a1a1a" >9</text>
<text x="327.41" y="534.70" font-size="12" text-anchor="middle" fill="#1a1a1a" >10</text>
<text x="355.77" y="534.70" font-size="12" text-anchor="middle" fill="#1a1a1a" >11</text>
<text x="384.14" y="534.70" font-size="12" text-anchor="middle" fill="#1a1a1a" >12</text>
<text x="412.50" y="534.70" font-size="12" text-anchor="middle" fill="#1a1a1a" >13</text>
<text x="251.60" y="504.73" font-size="12" text-anchor="end" fill="#1a1a1a" >20</text>
<text x="251.60" y="463.07" font-size="12" text-anchor="end" fill="#1a1a1a" >40</text>
<text x="251.60" y="421.43" font-size="12" text-anchor="end" fill="#1a1a1a" >60</text>
<path d="M275.00,463.60 L276.21,463.28 L277.85,462.84 L279.81,462.32 L281.96,461.77 L284.20,461.21 L286.40,460.70 L288.67,460.21 L291.11,459.71 L293.64,459.21 L296.14,458.73 L298.53,458.29 L300.70,457.90 L302.67,457.54 L304.51,457.19 L306.24,456.88 L307.84,456.63 L309.33,456.46 L310.70,456.40 L311.87,456.44 L312.81,456.56 L313.64,456.76 L314.44,457.05 L315.33,457.43 L316.40,457.90 L317.65,458.54 L319.00,459.37 L320.43,460.29 L321.92,461.20 L323.45,462.01 L325.00,462.60 L326.54,463.03 L328.08,463.38 L329.66,463.62 L331.32,463.72 L333.09,463.66 L335.00,463.40 L337.08,462.87 L339.30,462.07 L341.62,461.10 L344.04,460.07 L346.50,459.07 L349.00,458.20 L351.55,457.49 L354.18,456.86 L356.87,456.27 L359.59,455.66 L362.30,454.99 L365.00,454.20 L367.79,453.22 L370.72,452.06 L373.65,450.83 L376.45,449.66 L378.98,448.64 L381.10,447.90 L382.70,447.44 L383.86,447.17 L384.75,447.06 L385.54,447.08 L386.40,447.20 L387.50,447.40 L388.94,447.76 L390.61,448.31 L392.35,448.97 L394.00,449.63 L395.40,450.21 L396.40,450.60" fill="none" stroke="#c8c8c8" stroke-width="2.8" stroke-linejoin="round" stroke-linecap="round" />
<path d="M275.00,417.21 L275.92,417.24 L277.18,417.17 L278.68,417.17 L280.31,416.85 L281.99,416.88 L283.60,415.98 L285.20,416.32 L286.89,416.75 L288.61,416.50 L290.33,416.71 L292.00,415.92 L293.60,416.07 L295.10,415.60 L296.54,415.51 L297.94,415.12 L299.31,414.16 L300.69,413.85 L302.10,413.40 L303.58,413.38 L305.12,412.54 L306.66,411.25 L308.15,411.14 L309.51,410.00 L310.70,410.11 L311.67,409.63 L312.45,409.73 L313.12,410.85 L313.73,410.64 L314.33,410.97 L315.00,411.83 L315.73,411.79 L316.49,411.28 L317.24,411.85 L317.98,411.35 L318.67,411.24 L319.30,410.43 L319.85,410.49 L320.34,409.45 L320.79,408.76 L321.21,407.75 L321.64,406.37 L322.10,405.78 L322.58,405.08 L323.06,404.59 L323.54,404.13 L324.03,404.11 L324.52,404.36 L325.00,404.05 L325.48,405.28 L325.97,405.95 L326.46,407.10 L326.94,408.79 L327.42,409.62 L327.90,410.33 L328.36,411.09 L328.79,411.77 L329.21,411.56 L329.66,412.68 L330.15,412.06 L330.70,412.92 L331.32,413.14 L331.99,412.43 L332.71,413.09 L333.45,412.68 L334.22,412.87 L335.00,412.46 L335.76,412.75 L336.50,413.28 L337.26,414.42 L338.09,414.12 L339.02,414.85 L340.10,414.99 L341.36,414.66 L342.76,413.55 L344.27,412.83 L345.84,412.18 L347.43,411.62 L349.00,410.35 L350.62,410.33 L352.33,409.79 L354.06,409.28 L355.73,408.01 L357.27,408.33 L358.60,407.13 L359.68,406.94 L360.56,406.77 L361.30,406.68 L361.98,405.87 L362.66,406.25 L363.40,405.94 L364.16,406.08 L364.88,406.74 L365.59,407.41 L366.36,408.07 L367.21,408.66 L368.20,409.27 L369.40,409.12 L370.78,407.50 L372.25,406.31 L373.72,406.06 L375.10,404.77 L376.30,404.22 L377.25,404.17 L378.02,405.00 L378.70,405.93 L379.38,406.36 L380.15,406.94 L381.10,406.90 L382.28,407.53 L383.62,406.28 L385.05,406.09 L386.50,405.83 L387.91,404.80 L389.20,405.31 L390.44,405.93 L391.70,406.42 L392.91,407.52 L394.00,407.90 L394.92,409.06 L395.60,409.38" fill="none" stroke="#000" stroke-width="3.0" stroke-linejoin="round" stroke-linecap="round" />
<text x="280.40" y="431.60" font-size="12.5" text-anchor="start" fill="#1a1a1a" >I1</text>
<text x="281.20" y="478.20" font-size="12.5" text-anchor="start" fill="#a8a8a8" >I2</text>
<text x="231.30" y="458.10" font-size="12" text-anchor="middle" fill="#1a1a1a" transform="rotate(-90 231.3 458.1)" >SE<tspan font-size="8" dy="2.2">T</tspan><tspan dy="-2.2"> (dB)</tspan></text>
<text x="334.50" y="552.90" font-size="12" text-anchor="middle" fill="#1a1a1a" >Frequency (GHz)</text>
<text x="444.40" y="403.60" font-size="19" text-anchor="start" fill="#1a1a1a" >i</text>
<path d="M505.20,514.80 L507.90,514.82 L511.62,514.85 L516.04,514.89 L520.80,514.93 L525.57,514.96 L530.00,515.00 L534.22,515.03 L538.54,515.06 L542.86,515.09 L547.10,515.12 L551.18,515.16 L555.00,515.20 L558.51,515.26 L561.78,515.35 L564.88,515.44 L567.89,515.52 L570.90,515.58 L574.00,515.60 L577.23,515.58 L580.55,515.53 L583.86,515.46 L587.10,515.38 L590.17,515.29 L593.00,515.20 L595.51,515.10 L597.74,514.98 L599.82,514.86 L601.84,514.74 L603.93,514.65 L606.20,514.60 L608.83,514.60 L611.77,514.64 L614.78,514.71 L617.60,514.79 L619.99,514.86 L621.70,514.90" fill="none" stroke="#c4c4c4" stroke-width="1.6" stroke-linejoin="round" stroke-linecap="round" stroke-dasharray="3.6 2.4" stroke-linecap="butt"/>
<path d="M505.20,519.60 L505.73,519.71 L506.47,519.87 L507.35,520.05 L508.28,520.22 L509.19,520.35 L510.00,520.40 L510.70,520.41 L511.34,520.41 L511.96,520.36 L512.59,520.24 L513.26,519.99 L514.00,519.60 L514.84,518.96 L515.76,518.10 L516.72,517.11 L517.69,516.13 L518.62,515.25 L519.50,514.60 L520.31,514.19 L521.07,513.94 L521.80,513.81 L522.52,513.73 L523.25,513.68 L524.00,513.60 L524.74,513.48 L525.46,513.36 L526.18,513.26 L526.94,513.20 L527.77,513.21 L528.70,513.30 L529.79,513.49 L531.03,513.78 L532.34,514.12 L533.64,514.51 L534.85,514.91 L535.90,515.30 L536.76,515.70 L537.50,516.13 L538.15,516.57 L538.76,517.01 L539.36,517.43 L540.00,517.80 L540.60,518.14 L541.11,518.46 L541.61,518.76 L542.20,519.02 L542.97,519.24 L544.00,519.40 L545.41,519.51 L547.14,519.57 L549.04,519.59 L550.97,519.56 L552.78,519.50 L554.30,519.40 L555.51,519.25 L556.51,519.04 L557.39,518.79 L558.21,518.53 L559.06,518.26 L560.00,518.00 L561.05,517.73 L562.14,517.41 L563.26,517.10 L564.38,516.82 L565.47,516.61 L566.50,516.50 L567.48,516.52 L568.44,516.65 L569.36,516.85 L570.26,517.08 L571.14,517.31 L572.00,517.50 L572.79,517.65 L573.50,517.80 L574.18,517.95 L574.90,518.10 L575.72,518.25 L576.70,518.40 L577.84,518.56 L579.10,518.73 L580.46,518.89 L581.90,519.06 L583.38,519.23 L584.90,519.40 L586.47,519.59 L588.11,519.81 L589.81,520.02 L591.54,520.21 L593.28,520.35 L595.00,520.40 L596.77,520.34 L598.62,520.20 L600.48,520.00 L602.28,519.78 L603.94,519.57 L605.40,519.40 L606.60,519.27 L607.59,519.16 L608.44,519.06 L609.24,518.97 L610.06,518.88 L611.00,518.80 L612.08,518.73 L613.26,518.67 L614.46,518.62 L615.62,518.57 L616.69,518.50 L617.60,518.40 L618.36,518.26 L619.01,518.07 L619.56,517.88 L620.03,517.68 L620.40,517.52 L620.70,517.40" fill="none" stroke="#111" stroke-width="1.6" stroke-linejoin="round" stroke-linecap="round" stroke-dasharray="3.2 2.2" stroke-linecap="butt"/>
<path d="M504.80,405.87 L506.24,405.43 L508.23,405.43 L510.58,406.09 L513.12,405.66 L515.65,405.64 L518.00,405.89 L520.18,405.53 L522.34,405.58 L524.50,404.86 L526.67,404.98 L528.87,404.33 L531.10,404.36 L533.43,404.57 L535.85,404.54 L538.30,404.87 L540.70,404.94 L542.99,404.69 L545.10,405.23 L546.88,404.97 L548.37,404.64 L549.74,404.36 L551.18,404.53 L552.87,404.18 L555.00,404.26 L556.32,404.15 L557.64,404.24 L559.15,404.02 L560.66,404.11 L562.30,404.09 L563.93,403.91 L565.63,404.35 L567.33,403.98 L569.03,404.26 L570.73,404.37 L572.36,404.14 L574.00,403.79 L575.63,404.07 L577.26,403.85 L578.94,403.36 L580.62,403.08 L582.30,403.14 L583.98,402.62 L585.61,402.95 L587.24,402.50 L588.76,402.37 L590.28,402.18 L591.64,402.31 L593.00,402.45 L595.37,402.39 L597.47,403.03 L599.36,403.89 L601.09,404.44 L602.71,405.19 L604.30,405.43 L605.75,405.27 L606.99,405.06 L608.14,404.47 L609.29,403.64 L610.54,403.67 L612.00,402.91 L613.83,402.72 L615.98,402.53 L618.23,402.71 L620.38,402.62 L622.20,402.28 L623.50,402.14" fill="none" stroke="#c4c4c4" stroke-width="3.0" stroke-linejoin="round" stroke-linecap="round" />
<path d="M504.80,399.63 L505.79,400.09 L507.18,400.08 L508.82,400.00 L510.54,399.87 L512.19,400.45 L513.60,400.65 L514.74,400.64 L515.73,400.91 L516.65,401.01 L517.57,401.20 L518.56,401.91 L519.70,402.57 L521.00,402.82 L522.40,404.26 L523.88,404.72 L525.41,405.55 L526.96,406.00 L528.50,407.00 L530.04,406.55 L531.61,406.05 L533.19,405.01 L534.80,403.62 L536.44,403.00 L538.10,402.50 L539.85,401.76 L541.69,402.07 L543.55,401.31 L545.37,400.91 L547.08,401.23 L548.60,400.50 L549.85,400.99 L550.85,400.49 L551.74,400.49 L552.65,400.28 L553.69,400.38 L555.00,400.15 L556.61,400.11 L558.43,400.93 L560.39,400.62 L562.41,401.23 L564.44,400.88 L566.40,401.48 L568.26,401.25 L570.06,400.84 L571.86,400.48 L573.72,399.96 L575.68,399.77 L577.80,399.10 L580.18,399.32 L581.49,399.60 L582.80,399.11 L584.16,399.72 L585.52,399.73 L586.87,399.40 L588.22,399.42 L590.76,399.62 L593.00,399.71 L594.90,400.37 L596.56,400.12 L598.05,400.10 L599.47,400.39 L600.89,401.08 L602.40,401.39 L603.97,400.98 L605.51,400.87 L607.07,400.77 L608.65,400.74 L610.29,400.13 L612.00,400.29 L613.94,400.10 L616.12,400.00 L618.35,399.49 L620.45,399.34 L622.23,399.37 L623.50,399.74" fill="none" stroke="#000" stroke-width="3.0" stroke-linejoin="round" stroke-linecap="round" />
<line x1="485.60" y1="397.50" x2="640.50" y2="397.50" stroke="#8a8a8a" stroke-width="1.1" />
<line x1="485.60" y1="397.50" x2="485.60" y2="522.20" stroke="#5a5a5a" stroke-width="1.1" />
<line x1="485.60" y1="522.20" x2="640.50" y2="522.20" stroke="#5a5a5a" stroke-width="1.1" />
<line x1="640.50" y1="397.50" x2="640.50" y2="522.20" stroke="#c8c8c8" stroke-width="1.1" />
<line x1="482.60" y1="522.20" x2="485.60" y2="522.20" stroke="#5a5a5a" stroke-width="1" />
<line x1="640.50" y1="522.20" x2="643.50" y2="522.20" stroke="#c8c8c8" stroke-width="1" />
<line x1="483.80" y1="509.73" x2="485.60" y2="509.73" stroke="#5a5a5a" stroke-width="1" />
<line x1="640.50" y1="509.73" x2="642.30" y2="509.73" stroke="#c8c8c8" stroke-width="1" />
<line x1="482.60" y1="497.26" x2="485.60" y2="497.26" stroke="#5a5a5a" stroke-width="1" />
<line x1="640.50" y1="497.26" x2="643.50" y2="497.26" stroke="#c8c8c8" stroke-width="1" />
<line x1="483.80" y1="484.79" x2="485.60" y2="484.79" stroke="#5a5a5a" stroke-width="1" />
<line x1="640.50" y1="484.79" x2="642.30" y2="484.79" stroke="#c8c8c8" stroke-width="1" />
<line x1="482.60" y1="472.32" x2="485.60" y2="472.32" stroke="#5a5a5a" stroke-width="1" />
<line x1="640.50" y1="472.32" x2="643.50" y2="472.32" stroke="#c8c8c8" stroke-width="1" />
<line x1="483.80" y1="459.85" x2="485.60" y2="459.85" stroke="#5a5a5a" stroke-width="1" />
<line x1="640.50" y1="459.85" x2="642.30" y2="459.85" stroke="#c8c8c8" stroke-width="1" />
<line x1="482.60" y1="447.38" x2="485.60" y2="447.38" stroke="#5a5a5a" stroke-width="1" />
<line x1="640.50" y1="447.38" x2="643.50" y2="447.38" stroke="#c8c8c8" stroke-width="1" />
<line x1="483.80" y1="434.91" x2="485.60" y2="434.91" stroke="#5a5a5a" stroke-width="1" />
<line x1="640.50" y1="434.91" x2="642.30" y2="434.91" stroke="#c8c8c8" stroke-width="1" />
<line x1="482.60" y1="422.44" x2="485.60" y2="422.44" stroke="#5a5a5a" stroke-width="1" />
<line x1="640.50" y1="422.44" x2="643.50" y2="422.44" stroke="#c8c8c8" stroke-width="1" />
<line x1="483.80" y1="409.97" x2="485.60" y2="409.97" stroke="#5a5a5a" stroke-width="1" />
<line x1="640.50" y1="409.97" x2="642.30" y2="409.97" stroke="#c8c8c8" stroke-width="1" />
<line x1="482.60" y1="397.50" x2="485.60" y2="397.50" stroke="#5a5a5a" stroke-width="1" />
<line x1="640.50" y1="397.50" x2="643.50" y2="397.50" stroke="#c8c8c8" stroke-width="1" />
<text x="482.20" y="526.50" font-size="12" text-anchor="end" fill="#1a1a1a" >0.0</text>
<text x="643.80" y="526.50" font-size="12" text-anchor="start" fill="#1a1a1a" >0.0</text>
<text x="482.20" y="501.56" font-size="12" text-anchor="end" fill="#1a1a1a" >0.2</text>
<text x="643.80" y="501.56" font-size="12" text-anchor="start" fill="#1a1a1a" >0.2</text>
<text x="482.20" y="476.62" font-size="12" text-anchor="end" fill="#1a1a1a" >0.4</text>
<text x="643.80" y="476.62" font-size="12" text-anchor="start" fill="#1a1a1a" >0.4</text>
<text x="482.20" y="451.68" font-size="12" text-anchor="end" fill="#1a1a1a" >0.6</text>
<text x="643.80" y="451.68" font-size="12" text-anchor="start" fill="#1a1a1a" >0.6</text>
<text x="482.20" y="426.74" font-size="12" text-anchor="end" fill="#1a1a1a" >0.8</text>
<text x="643.80" y="426.74" font-size="12" text-anchor="start" fill="#1a1a1a" >0.8</text>
<text x="482.20" y="401.80" font-size="12" text-anchor="end" fill="#1a1a1a" >1.0</text>
<text x="643.80" y="401.80" font-size="12" text-anchor="start" fill="#1a1a1a" >1.0</text>
<line x1="485.60" y1="522.20" x2="485.60" y2="524.00" stroke="#5a5a5a" stroke-width="1" />
<line x1="499.68" y1="522.20" x2="499.68" y2="525.20" stroke="#5a5a5a" stroke-width="1" />
<line x1="513.76" y1="522.20" x2="513.76" y2="524.00" stroke="#5a5a5a" stroke-width="1" />
<line x1="527.85" y1="522.20" x2="527.85" y2="525.20" stroke="#5a5a5a" stroke-width="1" />
<line x1="541.93" y1="522.20" x2="541.93" y2="524.00" stroke="#5a5a5a" stroke-width="1" />
<line x1="556.01" y1="522.20" x2="556.01" y2="525.20" stroke="#5a5a5a" stroke-width="1" />
<line x1="570.09" y1="522.20" x2="570.09" y2="524.00" stroke="#5a5a5a" stroke-width="1" />
<line x1="584.17" y1="522.20" x2="584.17" y2="525.20" stroke="#5a5a5a" stroke-width="1" />
<line x1="598.25" y1="522.20" x2="598.25" y2="524.00" stroke="#5a5a5a" stroke-width="1" />
<line x1="612.34" y1="522.20" x2="612.34" y2="525.20" stroke="#5a5a5a" stroke-width="1" />
<line x1="626.42" y1="522.20" x2="626.42" y2="524.00" stroke="#5a5a5a" stroke-width="1" />
<line x1="640.50" y1="522.20" x2="640.50" y2="525.20" stroke="#5a5a5a" stroke-width="1" />
<text x="499.68" y="535.20" font-size="12" text-anchor="middle" fill="#1a1a1a" >8</text>
<text x="527.85" y="535.20" font-size="12" text-anchor="middle" fill="#1a1a1a" >9</text>
<text x="556.01" y="535.20" font-size="12" text-anchor="middle" fill="#1a1a1a" >10</text>
<text x="584.17" y="535.20" font-size="12" text-anchor="middle" fill="#1a1a1a" >11</text>
<text x="612.34" y="535.20" font-size="12" text-anchor="middle" fill="#1a1a1a" >12</text>
<text x="640.50" y="535.20" font-size="12" text-anchor="middle" fill="#1a1a1a" >13</text>
<text x="562.80" y="555.00" font-size="12" text-anchor="middle" fill="#1a1a1a" >Frequency (GHz)</text>
<text x="460.00" y="459.00" font-size="12" text-anchor="middle" fill="#1a1a1a" transform="rotate(-90 460.0 459)" >R</text>
<text x="673.00" y="459.00" font-size="12" text-anchor="middle" fill="#1a1a1a" transform="rotate(-90 673.0 459)" >A</text>
<line x1="571.70" y1="438.70" x2="590.10" y2="438.70" stroke="#000" stroke-width="3.0" />
<text x="599.20" y="441.90" font-size="12.5" text-anchor="start" fill="#1a1a1a" >I1</text>
<line x1="571.70" y1="462.80" x2="590.10" y2="462.80" stroke="#b4b4b4" stroke-width="3.0" />
<text x="600.00" y="466.60" font-size="12.5" text-anchor="start" fill="#a0a0a0" >I2</text>
<path d="M510.6,413.2 L510.6,416 Q510,417.6 505,418 L493.4,419" fill="none" stroke="#111" stroke-width="1.9" stroke-linecap="round" stroke-linejoin="round"/>
<path d="M500.90,414.50 L492.60,419.00 L501.10,423.00" fill="none" stroke="#111" stroke-width="2.0" stroke-linecap="round" stroke-linejoin="miter"/>
<path d="M613.4,508.1 L612.6,503.6 Q613.2,500.6 618,499.6 L631.2,498.4" fill="none" stroke="#111" stroke-width="1.9" stroke-linecap="round" stroke-linejoin="round"/>
<path d="M623.60,494.40 L632.10,498.30 L623.80,503.00" fill="none" stroke="#111" stroke-width="2.0" stroke-linecap="round" stroke-linejoin="miter"/>
</svg></body></html>
